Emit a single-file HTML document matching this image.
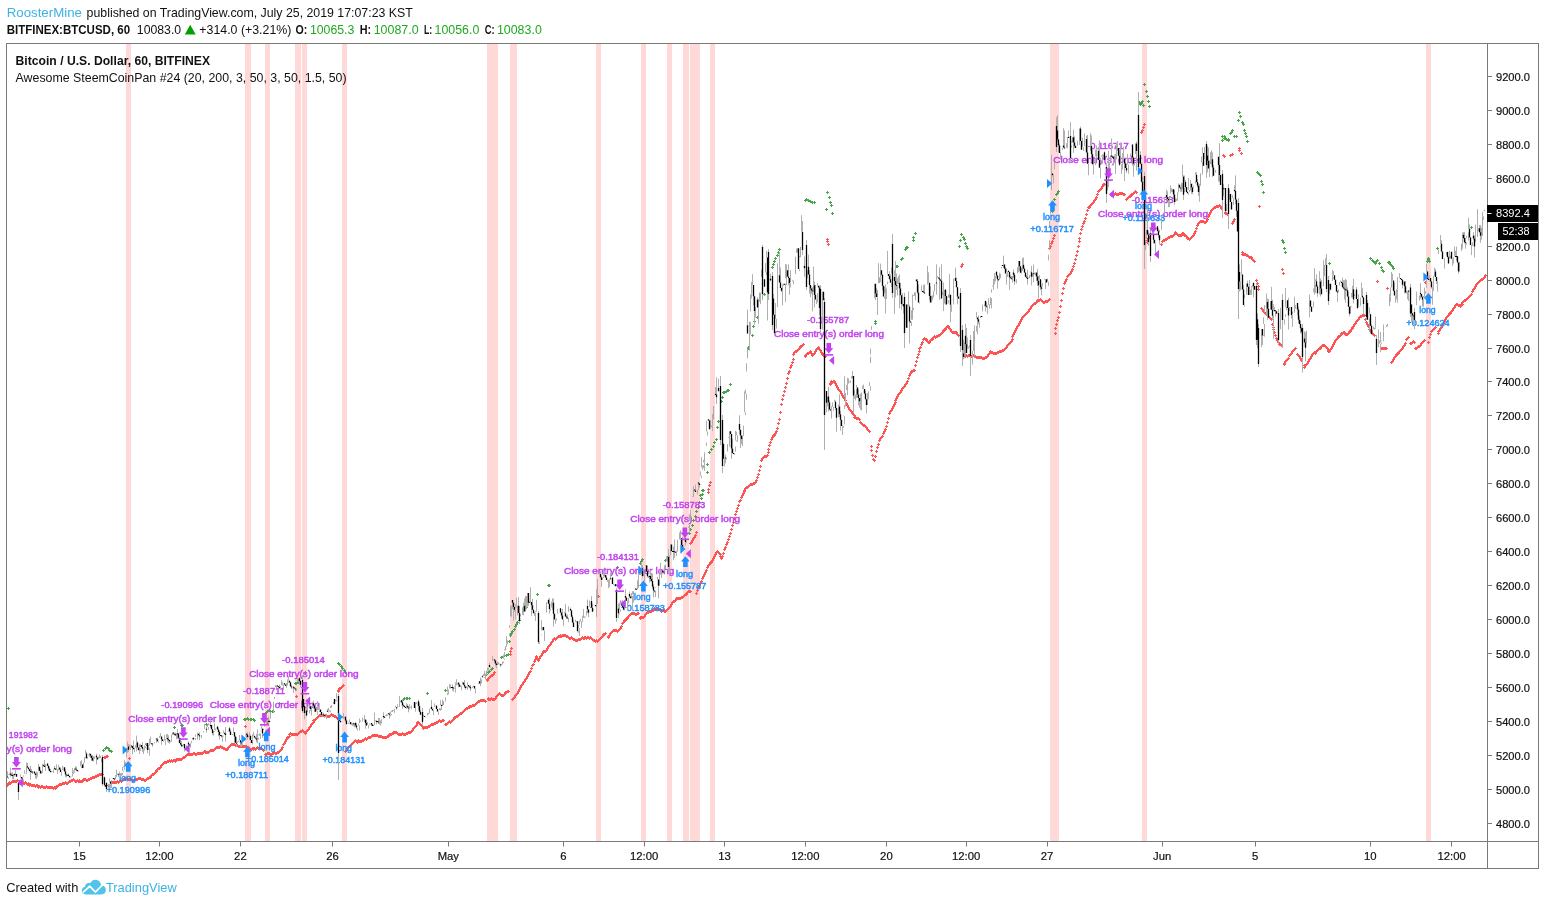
<!DOCTYPE html>
<html><head><meta charset="utf-8"><title>BTCUSD chart</title>
<style>html,body{margin:0;padding:0;background:#fff}body{width:1545px;height:905px;overflow:hidden;font-family:"Liberation Sans", sans-serif}</style></head>
<body>
<svg width="1545" height="905" viewBox="0 0 1545 905" style="display:block;will-change:transform;font-family:'Liberation Sans', sans-serif">
<rect width="1545" height="905" fill="#fff"/>
<defs><clipPath id="cp"><rect x="7" y="44" width="1480" height="797"/></clipPath></defs>
<g clip-path="url(#cp)">
<rect x="126" y="44" width="5" height="797" fill="#ffd8d8"/>
<rect x="245" y="44" width="6" height="797" fill="#ffd8d8"/>
<rect x="265" y="44" width="5" height="797" fill="#ffd8d8"/>
<rect x="295" y="44" width="6" height="797" fill="#ffd8d8"/>
<rect x="302" y="44" width="5" height="797" fill="#ffd8d8"/>
<rect x="342" y="44" width="5" height="797" fill="#ffd8d8"/>
<rect x="487" y="44" width="11" height="797" fill="#ffd8d8"/>
<rect x="510" y="44" width="7" height="797" fill="#ffd8d8"/>
<rect x="596" y="44" width="5" height="797" fill="#ffd8d8"/>
<rect x="641" y="44" width="5" height="797" fill="#ffd8d8"/>
<rect x="667" y="44" width="5" height="797" fill="#ffd8d8"/>
<rect x="683" y="44" width="6" height="797" fill="#ffd8d8"/>
<rect x="690" y="44" width="10" height="797" fill="#ffd8d8"/>
<rect x="710" y="44" width="5" height="797" fill="#ffd8d8"/>
<rect x="1050" y="44" width="9" height="797" fill="#ffd8d8"/>
<rect x="1142" y="44" width="5" height="797" fill="#ffd8d8"/>
<rect x="1426" y="44" width="5" height="797" fill="#ffd8d8"/>
<path d="M6 785.5h3M7.5 784v3M6 784.5h3M7.5 783v3M7 784.5h3M8.5 783v3M8 782.5h3M9.5 781v3M9 783.5h3M10.5 782v3M10 782.5h3M11.5 781v3M11 781.5h3M12.5 780v3M12 781.5h3M13.5 780v3M13 781.5h3M14.5 780v3M14 781.5h3M15.5 780v3M15 781.5h3M16.5 780v3M16 780.5h3M17.5 779v3M17 781.5h3M18.5 780v3M18 781.5h3M19.5 780v3M19 782.5h3M20.5 781v3M20 782.5h3M21.5 781v3M21 781.5h3M22.5 780v3M22 783.5h3M23.5 782v3M23 783.5h3M24.5 782v3M24 782.5h3M25.5 781v3M25 783.5h3M26.5 782v3M26 784.5h3M27.5 783v3M27 783.5h3M28.5 782v3M28 785.5h3M29.5 784v3M29 784.5h3M30.5 783v3M30 785.5h3M31.5 784v3M31 785.5h3M32.5 784v3M32 785.5h3M33.5 784v3M33 785.5h3M34.5 784v3M34 786.5h3M35.5 785v3M35 785.5h3M36.5 784v3M36 785.5h3M37.5 784v3M37 787.5h3M38.5 786v3M38 786.5h3M39.5 785v3M39 787.5h3M40.5 786v3M40 786.5h3M41.5 785v3M41 786.5h3M42.5 785v3M42 787.5h3M43.5 786v3M43 787.5h3M44.5 786v3M44 787.5h3M45.5 786v3M45 786.5h3M46.5 785v3M46 787.5h3M47.5 786v3M47 787.5h3M48.5 786v3M48 787.5h3M49.5 786v3M49 787.5h3M50.5 786v3M50 787.5h3M51.5 786v3M51 787.5h3M52.5 786v3M52 788.5h3M53.5 787v3M53 787.5h3M54.5 786v3M54 788.5h3M55.5 787v3M55 786.5h3M56.5 785v3M56 786.5h3M57.5 785v3M57 785.5h3M58.5 784v3M58 784.5h3M59.5 783v3M59 784.5h3M60.5 783v3M60 784.5h3M61.5 783v3M61 783.5h3M62.5 782v3M62 783.5h3M63.5 782v3M63 783.5h3M64.5 782v3M64 782.5h3M65.5 781v3M65 783.5h3M66.5 782v3M66 783.5h3M67.5 782v3M67 782.5h3M68.5 781v3M68 781.5h3M69.5 780v3M69 781.5h3M70.5 780v3M70 780.5h3M71.5 779v3M71 780.5h3M72.5 779v3M72 779.5h3M73.5 778v3M73 780.5h3M74.5 779v3M74 781.5h3M75.5 780v3M75 781.5h3M76.5 780v3M76 780.5h3M77.5 779v3M77 781.5h3M78.5 780v3M78 781.5h3M79.5 780v3M78 780.5h3M79.5 779v3M79 781.5h3M80.5 780v3M80 781.5h3M81.5 780v3M81 781.5h3M82.5 780v3M82 779.5h3M83.5 778v3M83 779.5h3M84.5 778v3M84 779.5h3M85.5 778v3M85 780.5h3M86.5 779v3M86 780.5h3M87.5 779v3M87 779.5h3M88.5 778v3M88 779.5h3M89.5 778v3M89 778.5h3M90.5 777v3M90 778.5h3M91.5 777v3M91 777.5h3M92.5 776v3M92 777.5h3M93.5 776v3M93 777.5h3M94.5 776v3M94 776.5h3M95.5 775v3M95 776.5h3M96.5 775v3M96 775.5h3M97.5 774v3M97 775.5h3M98.5 774v3M98 774.5h3M99.5 773v3M99 774.5h3M100.5 773v3M100 774.5h3M101.5 773v3M101 774.5h3M102.5 773v3M107 785.5h3M108.5 784v3M108 785.5h3M109.5 784v3M109 784.5h3M110.5 783v3M110 783.5h3M111.5 782v3M111 782.5h3M112.5 781v3M112 782.5h3M113.5 781v3M113 782.5h3M114.5 781v3M114 782.5h3M115.5 781v3M115 782.5h3M116.5 781v3M116 781.5h3M117.5 780v3M117 782.5h3M118.5 781v3M118 781.5h3M119.5 780v3M119 780.5h3M120.5 779v3M120 781.5h3M121.5 780v3M121 780.5h3M122.5 779v3M122 779.5h3M123.5 778v3M123 778.5h3M124.5 777v3M124 779.5h3M125.5 778v3M125 778.5h3M126.5 777v3M126 779.5h3M127.5 778v3M127 779.5h3M128.5 778v3M128 779.5h3M129.5 778v3M129 779.5h3M130.5 778v3M130 779.5h3M131.5 778v3M131 780.5h3M132.5 779v3M132 780.5h3M133.5 779v3M133 779.5h3M134.5 778v3M134 779.5h3M135.5 778v3M135 779.5h3M136.5 778v3M136 779.5h3M137.5 778v3M137 778.5h3M138.5 777v3M138 778.5h3M139.5 777v3M139 778.5h3M140.5 777v3M140 779.5h3M141.5 778v3M141 779.5h3M142.5 778v3M142 779.5h3M143.5 778v3M143 780.5h3M144.5 779v3M144 780.5h3M145.5 779v3M145 779.5h3M146.5 778v3M146 778.5h3M147.5 777v3M147 778.5h3M148.5 777v3M148 777.5h3M149.5 776v3M149 777.5h3M150.5 776v3M150 775.5h3M151.5 774v3M151 774.5h3M152.5 773v3M152 774.5h3M153.5 773v3M153 773.5h3M154.5 772v3M154 772.5h3M155.5 771v3M155 771.5h3M156.5 770v3M155 770.5h3M156.5 769v3M156 769.5h3M157.5 768v3M157 768.5h3M158.5 767v3M158 768.5h3M159.5 767v3M159 767.5h3M160.5 766v3M160 765.5h3M161.5 764v3M161 764.5h3M162.5 763v3M162 763.5h3M163.5 762v3M163 762.5h3M164.5 761v3M164 762.5h3M165.5 761v3M165 762.5h3M166.5 761v3M166 761.5h3M167.5 760v3M167 761.5h3M168.5 760v3M168 760.5h3M169.5 759v3M169 761.5h3M170.5 760v3M170 760.5h3M171.5 759v3M171 761.5h3M172.5 760v3M172 760.5h3M173.5 759v3M173 760.5h3M174.5 759v3M174 761.5h3M175.5 760v3M175 759.5h3M176.5 758v3M176 759.5h3M177.5 758v3M177 759.5h3M178.5 758v3M178 759.5h3M179.5 758v3M179 759.5h3M180.5 758v3M180 759.5h3M181.5 758v3M181 758.5h3M182.5 757v3M182 757.5h3M183.5 756v3M183 757.5h3M184.5 756v3M184 756.5h3M185.5 755v3M185 755.5h3M186.5 754v3M186 754.5h3M187.5 753v3M187 754.5h3M188.5 753v3M188 754.5h3M189.5 753v3M189 754.5h3M190.5 753v3M190 754.5h3M191.5 753v3M191 754.5h3M192.5 753v3M192 753.5h3M193.5 752v3M193 753.5h3M194.5 752v3M194 754.5h3M195.5 753v3M195 754.5h3M196.5 753v3M196 753.5h3M197.5 752v3M197 753.5h3M198.5 752v3M198 753.5h3M199.5 752v3M199 753.5h3M200.5 752v3M200 753.5h3M201.5 752v3M201 753.5h3M202.5 752v3M202 752.5h3M203.5 751v3M203 751.5h3M204.5 750v3M204 751.5h3M205.5 750v3M204 752.5h3M205.5 751v3M205 752.5h3M206.5 751v3M206 752.5h3M207.5 751v3M207 752.5h3M208.5 751v3M208 751.5h3M209.5 750v3M209 750.5h3M210.5 749v3M210 750.5h3M211.5 749v3M211 750.5h3M212.5 749v3M212 750.5h3M213.5 749v3M213 749.5h3M214.5 748v3M214 748.5h3M215.5 747v3M215 747.5h3M216.5 746v3M216 747.5h3M217.5 746v3M217 747.5h3M218.5 746v3M218 747.5h3M219.5 746v3M219 746.5h3M220.5 745v3M220 747.5h3M221.5 746v3M221 747.5h3M222.5 746v3M222 748.5h3M223.5 747v3M223 748.5h3M224.5 747v3M224 749.5h3M225.5 748v3M225 749.5h3M226.5 748v3M226 749.5h3M227.5 748v3M227 747.5h3M228.5 746v3M228 746.5h3M229.5 745v3M229 745.5h3M230.5 744v3M230 744.5h3M231.5 743v3M231 744.5h3M232.5 743v3M232 744.5h3M233.5 743v3M233 744.5h3M234.5 743v3M234 745.5h3M235.5 744v3M235 745.5h3M236.5 744v3M236 745.5h3M237.5 744v3M237 746.5h3M238.5 745v3M238 746.5h3M239.5 745v3M239 746.5h3M240.5 745v3M240 746.5h3M241.5 745v3M241 746.5h3M242.5 745v3M242 746.5h3M243.5 745v3M243 746.5h3M244.5 745v3M244 746.5h3M245.5 745v3M245 746.5h3M246.5 745v3M246 747.5h3M247.5 746v3M247 747.5h3M248.5 746v3M248 748.5h3M249.5 747v3M249 749.5h3M250.5 748v3M250 749.5h3M251.5 748v3M251 748.5h3M252.5 747v3M252 748.5h3M253.5 747v3M252 749.5h3M253.5 748v3M253 748.5h3M254.5 747v3M254 749.5h3M255.5 748v3M255 748.5h3M256.5 747v3M256 747.5h3M257.5 746v3M257 748.5h3M258.5 747v3M258 748.5h3M259.5 747v3M259 748.5h3M260.5 747v3M260 748.5h3M261.5 747v3M261 749.5h3M262.5 748v3M262 750.5h3M263.5 749v3M264 754.5h3M265.5 753v3M265 754.5h3M266.5 753v3M266 753.5h3M267.5 752v3M267 753.5h3M268.5 752v3M268 753.5h3M269.5 752v3M269 754.5h3M270.5 753v3M270 754.5h3M271.5 753v3M271 753.5h3M272.5 752v3M272 753.5h3M273.5 752v3M273 752.5h3M274.5 751v3M274 753.5h3M275.5 752v3M275 753.5h3M276.5 752v3M276 752.5h3M277.5 751v3M277 752.5h3M278.5 751v3M278 751.5h3M279.5 750v3M279 750.5h3M280.5 749v3M280 749.5h3M281.5 748v3M281 747.5h3M282.5 746v3M282 744.5h3M283.5 743v3M283 743.5h3M284.5 742v3M284 741.5h3M285.5 740v3M285 739.5h3M286.5 738v3M286 737.5h3M287.5 736v3M287 737.5h3M288.5 736v3M288 736.5h3M289.5 735v3M288 734.5h3M289.5 733v3M289 733.5h3M290.5 732v3M290 734.5h3M291.5 733v3M291 734.5h3M292.5 733v3M292 734.5h3M293.5 733v3M293 734.5h3M294.5 733v3M294 734.5h3M295.5 733v3M295 734.5h3M296.5 733v3M296 734.5h3M297.5 733v3M297 733.5h3M298.5 732v3M298 732.5h3M299.5 731v3M299 731.5h3M300.5 730v3M300 731.5h3M301.5 730v3M301 730.5h3M302.5 729v3M302 731.5h3M303.5 730v3M303 732.5h3M304.5 731v3M304 733.5h3M305.5 732v3M305 731.5h3M306.5 730v3M306 730.5h3M307.5 729v3M307 729.5h3M308.5 728v3M308 727.5h3M309.5 726v3M309 726.5h3M310.5 725v3M310 724.5h3M311.5 723v3M311 723.5h3M312.5 722v3M312 722.5h3M313.5 721v3M312 720.5h3M313.5 719v3M313 720.5h3M314.5 719v3M314 719.5h3M315.5 718v3M315 718.5h3M316.5 717v3M316 717.5h3M317.5 716v3M317 716.5h3M318.5 715v3M318 715.5h3M319.5 714v3M319 715.5h3M320.5 714v3M320 715.5h3M321.5 714v3M321 715.5h3M322.5 714v3M322 715.5h3M323.5 714v3M323 716.5h3M324.5 715v3M324 715.5h3M325.5 714v3M325 716.5h3M326.5 715v3M326 716.5h3M327.5 715v3M327 716.5h3M328.5 715v3M328 716.5h3M329.5 715v3M329 715.5h3M330.5 714v3M330 714.5h3M331.5 713v3M331 715.5h3M332.5 714v3M332 715.5h3M333.5 714v3M333 716.5h3M334.5 715v3M334 716.5h3M335.5 715v3M335 717.5h3M336.5 716v3M336 718.5h3M337.5 717v3M344 751.5h3M345.5 750v3M345 750.5h3M346.5 749v3M346 748.5h3M347.5 747v3M347 747.5h3M348.5 746v3M348 746.5h3M349.5 745v3M349 745.5h3M350.5 744v3M350 744.5h3M351.5 743v3M351 743.5h3M352.5 742v3M352 742.5h3M353.5 741v3M353 741.5h3M354.5 740v3M354 740.5h3M355.5 739v3M355 741.5h3M356.5 740v3M356 742.5h3M357.5 741v3M357 740.5h3M358.5 739v3M358 741.5h3M359.5 740v3M359 741.5h3M360.5 740v3M360 741.5h3M361.5 740v3M361 740.5h3M362.5 739v3M362 740.5h3M363.5 739v3M363 739.5h3M364.5 738v3M364 738.5h3M365.5 737v3M365 739.5h3M366.5 738v3M366 738.5h3M367.5 737v3M367 737.5h3M368.5 736v3M368 737.5h3M369.5 736v3M369 737.5h3M370.5 736v3M370 736.5h3M371.5 735v3M371 735.5h3M372.5 734v3M372 735.5h3M373.5 734v3M373 735.5h3M374.5 734v3M374 735.5h3M375.5 734v3M375 735.5h3M376.5 734v3M376 735.5h3M377.5 734v3M377 736.5h3M378.5 735v3M378 736.5h3M379.5 735v3M379 736.5h3M380.5 735v3M380 736.5h3M381.5 735v3M381 737.5h3M382.5 736v3M382 737.5h3M383.5 736v3M383 737.5h3M384.5 736v3M384 737.5h3M385.5 736v3M385 737.5h3M386.5 736v3M386 736.5h3M387.5 735v3M387 736.5h3M388.5 735v3M388 734.5h3M389.5 733v3M389 734.5h3M390.5 733v3M390 734.5h3M391.5 733v3M391 733.5h3M392.5 732v3M392 733.5h3M393.5 732v3M392 732.5h3M393.5 731v3M393 732.5h3M394.5 731v3M394 732.5h3M395.5 731v3M395 732.5h3M396.5 731v3M396 733.5h3M397.5 732v3M397 734.5h3M398.5 733v3M398 734.5h3M399.5 733v3M399 734.5h3M400.5 733v3M400 734.5h3M401.5 733v3M401 733.5h3M402.5 732v3M402 734.5h3M403.5 733v3M403 734.5h3M404.5 733v3M404 734.5h3M405.5 733v3M405 733.5h3M406.5 732v3M406 733.5h3M407.5 732v3M407 732.5h3M408.5 731v3M408 732.5h3M409.5 731v3M409 732.5h3M410.5 731v3M410 731.5h3M411.5 730v3M411 730.5h3M412.5 729v3M412 728.5h3M413.5 727v3M413 727.5h3M414.5 726v3M414 726.5h3M415.5 725v3M415 725.5h3M416.5 724v3M416 723.5h3M417.5 722v3M416 722.5h3M417.5 721v3M417 722.5h3M418.5 721v3M418 723.5h3M419.5 722v3M419 724.5h3M420.5 723v3M420 725.5h3M421.5 724v3M421 726.5h3M422.5 725v3M422 728.5h3M423.5 727v3M423 727.5h3M424.5 726v3M424 727.5h3M425.5 726v3M425 727.5h3M426.5 726v3M426 727.5h3M427.5 726v3M427 726.5h3M428.5 725v3M428 726.5h3M429.5 725v3M429 725.5h3M430.5 724v3M430 724.5h3M431.5 723v3M431 724.5h3M432.5 723v3M432 724.5h3M433.5 723v3M433 723.5h3M434.5 722v3M434 723.5h3M435.5 722v3M435 722.5h3M436.5 721v3M436 722.5h3M437.5 721v3M437 721.5h3M438.5 720v3M438 720.5h3M439.5 719v3M439 721.5h3M440.5 720v3M440 721.5h3M441.5 720v3M441 720.5h3M442.5 719v3M442 720.5h3M443.5 719v3M444 724.5h3M445.5 723v3M445 724.5h3M446.5 723v3M446 723.5h3M447.5 722v3M447 722.5h3M448.5 721v3M448 721.5h3M449.5 720v3M449 722.5h3M450.5 721v3M450 721.5h3M451.5 720v3M451 720.5h3M452.5 719v3M452 719.5h3M453.5 718v3M453 717.5h3M454.5 716v3M454 717.5h3M455.5 716v3M455 716.5h3M456.5 715v3M456 716.5h3M457.5 715v3M457 715.5h3M458.5 714v3M458 714.5h3M459.5 713v3M459 713.5h3M460.5 712v3M460 713.5h3M461.5 712v3M461 712.5h3M462.5 711v3M462 711.5h3M463.5 710v3M463 710.5h3M464.5 709v3M464 709.5h3M465.5 708v3M465 708.5h3M466.5 707v3M466 708.5h3M467.5 707v3M467 707.5h3M468.5 706v3M468 707.5h3M469.5 706v3M468 706.5h3M469.5 705v3M469 706.5h3M470.5 705v3M470 706.5h3M471.5 705v3M471 705.5h3M472.5 704v3M472 705.5h3M473.5 704v3M473 705.5h3M474.5 704v3M474 704.5h3M475.5 703v3M475 703.5h3M476.5 702v3M476 702.5h3M477.5 701v3M477 701.5h3M478.5 700v3M478 701.5h3M479.5 700v3M479 700.5h3M480.5 699v3M480 700.5h3M481.5 699v3M481 700.5h3M482.5 699v3M482 700.5h3M483.5 699v3M483 700.5h3M484.5 699v3M484 701.5h3M485.5 700v3M487 699.5h3M488.5 698v3M487 698.5h3M488.5 697v3M488 699.5h3M489.5 698v3M489 699.5h3M490.5 698v3M490 698.5h3M491.5 697v3M491 699.5h3M492.5 698v3M492 699.5h3M493.5 698v3M493 699.5h3M494.5 698v3M494 698.5h3M495.5 697v3M495 696.5h3M496.5 695v3M496 695.5h3M497.5 694v3M497 694.5h3M498.5 693v3M498 693.5h3M499.5 692v3M499 694.5h3M500.5 693v3M500 695.5h3M501.5 694v3M501 695.5h3M502.5 694v3M502 695.5h3M503.5 694v3M503 694.5h3M504.5 693v3M504 692.5h3M505.5 691v3M505 692.5h3M506.5 691v3M506 691.5h3M507.5 690v3M507 691.5h3M508.5 690v3M511 699.5h3M512.5 698v3M512 698.5h3M513.5 697v3M513 697.5h3M514.5 696v3M514 695.5h3M515.5 694v3M515 694.5h3M516.5 693v3M516 693.5h3M517.5 692v3M517 691.5h3M518.5 690v3M518 689.5h3M519.5 688v3M519 687.5h3M520.5 686v3M520 685.5h3M521.5 684v3M521 684.5h3M522.5 683v3M522 682.5h3M523.5 681v3M523 681.5h3M524.5 680v3M524 679.5h3M525.5 678v3M525 678.5h3M526.5 677v3M526 676.5h3M527.5 675v3M527 674.5h3M528.5 673v3M528 672.5h3M529.5 671v3M529 671.5h3M530.5 670v3M530 668.5h3M531.5 667v3M531 665.5h3M532.5 664v3M532 664.5h3M533.5 663v3M533 661.5h3M534.5 660v3M534 659.5h3M535.5 658v3M535 656.5h3M536.5 655v3M535 657.5h3M536.5 656v3M536 659.5h3M537.5 658v3M537 660.5h3M538.5 659v3M538 658.5h3M539.5 657v3M539 656.5h3M540.5 655v3M540 655.5h3M541.5 654v3M541 653.5h3M542.5 652v3M542 651.5h3M543.5 650v3M543 651.5h3M544.5 650v3M544 651.5h3M545.5 650v3M545 650.5h3M546.5 649v3M546 648.5h3M547.5 647v3M547 646.5h3M548.5 645v3M548 645.5h3M549.5 644v3M549 644.5h3M550.5 643v3M550 642.5h3M551.5 641v3M551 641.5h3M552.5 640v3M552 639.5h3M553.5 638v3M553 638.5h3M554.5 637v3M554 639.5h3M555.5 638v3M555 638.5h3M556.5 637v3M556 637.5h3M557.5 636v3M557 636.5h3M558.5 635v3M558 636.5h3M559.5 635v3M559 635.5h3M560.5 634v3M559 636.5h3M560.5 635v3M560 636.5h3M561.5 635v3M561 635.5h3M562.5 634v3M562 635.5h3M563.5 634v3M563 635.5h3M564.5 634v3M564 635.5h3M565.5 634v3M565 636.5h3M566.5 635v3M566 636.5h3M567.5 635v3M567 637.5h3M568.5 636v3M568 638.5h3M569.5 637v3M569 638.5h3M570.5 637v3M570 637.5h3M571.5 636v3M571 638.5h3M572.5 637v3M572 639.5h3M573.5 638v3M573 639.5h3M574.5 638v3M574 640.5h3M575.5 639v3M575 640.5h3M576.5 639v3M576 640.5h3M577.5 639v3M577 639.5h3M578.5 638v3M578 639.5h3M579.5 638v3M579 639.5h3M580.5 638v3M580 638.5h3M581.5 637v3M581 637.5h3M582.5 636v3M582 638.5h3M583.5 637v3M583 637.5h3M584.5 636v3M583 638.5h3M584.5 637v3M584 637.5h3M585.5 636v3M585 638.5h3M586.5 637v3M586 637.5h3M587.5 636v3M587 637.5h3M588.5 636v3M588 638.5h3M589.5 637v3M589 637.5h3M590.5 636v3M590 638.5h3M591.5 637v3M591 639.5h3M592.5 638v3M592 640.5h3M593.5 639v3M593 640.5h3M594.5 639v3M594 641.5h3M595.5 640v3M595 640.5h3M596.5 639v3M596 641.5h3M597.5 640v3M597 640.5h3M598.5 639v3M598 639.5h3M599.5 638v3M599 638.5h3M600.5 637v3M600 637.5h3M601.5 636v3M601 636.5h3M602.5 635v3M602 634.5h3M603.5 633v3M603 634.5h3M604.5 633v3M604 633.5h3M605.5 632v3M607 637.5h3M608.5 636v3M607 636.5h3M608.5 635v3M608 635.5h3M609.5 634v3M609 633.5h3M610.5 632v3M610 632.5h3M611.5 631v3M611 631.5h3M612.5 630v3M612 630.5h3M613.5 629v3M613 630.5h3M614.5 629v3M614 630.5h3M615.5 629v3M615 630.5h3M616.5 629v3M616 631.5h3M617.5 630v3M617 630.5h3M618.5 629v3M618 629.5h3M619.5 628v3M619 628.5h3M620.5 627v3M620 626.5h3M621.5 625v3M621 623.5h3M622.5 622v3M622 622.5h3M623.5 621v3M623 620.5h3M624.5 619v3M624 620.5h3M625.5 619v3M625 618.5h3M626.5 617v3M626 618.5h3M627.5 617v3M627 616.5h3M628.5 615v3M628 615.5h3M629.5 614v3M629 614.5h3M630.5 613v3M630 613.5h3M631.5 612v3M631 613.5h3M632.5 612v3M632 613.5h3M633.5 612v3M633 613.5h3M634.5 612v3M634 614.5h3M635.5 613v3M635 614.5h3M636.5 613v3M636 613.5h3M637.5 612v3M637 613.5h3M638.5 612v3M639 618.5h3M640.5 617v3M639 617.5h3M640.5 616v3M640 617.5h3M641.5 616v3M641 617.5h3M642.5 616v3M642 617.5h3M643.5 616v3M643 616.5h3M644.5 615v3M644 614.5h3M645.5 613v3M645 613.5h3M646.5 612v3M646 612.5h3M647.5 611v3M647 612.5h3M648.5 611v3M648 611.5h3M649.5 610v3M649 611.5h3M650.5 610v3M650 611.5h3M651.5 610v3M651 610.5h3M652.5 609v3M652 610.5h3M653.5 609v3M653 608.5h3M654.5 607v3M654 609.5h3M655.5 608v3M655 608.5h3M656.5 607v3M656 609.5h3M657.5 608v3M657 609.5h3M658.5 608v3M658 609.5h3M659.5 608v3M659 609.5h3M660.5 608v3M660 611.5h3M661.5 610v3M661 610.5h3M662.5 609v3M662 610.5h3M663.5 609v3M663 610.5h3M664.5 609v3M663 611.5h3M664.5 610v3M664 611.5h3M665.5 610v3M665 610.5h3M666.5 609v3M666 609.5h3M667.5 608v3M667 608.5h3M668.5 607v3M668 607.5h3M669.5 606v3M669 606.5h3M670.5 605v3M670 604.5h3M671.5 603v3M671 602.5h3M672.5 601v3M672 601.5h3M673.5 600v3M673 601.5h3M674.5 600v3M674 600.5h3M675.5 599v3M675 598.5h3M676.5 597v3M676 598.5h3M677.5 597v3M677 598.5h3M678.5 597v3M678 598.5h3M679.5 597v3M679 598.5h3M680.5 597v3M680 597.5h3M681.5 596v3M681 597.5h3M682.5 596v3M682 596.5h3M683.5 595v3M683 595.5h3M684.5 594v3M684 594.5h3M685.5 593v3M685 594.5h3M686.5 593v3M686 592.5h3M687.5 591v3M687 591.5h3M688.5 590v3M688 591.5h3M689.5 590v3M689 591.5h3M690.5 590v3M695 593.5h3M696.5 592v3M696 590.5h3M697.5 589v3M697 587.5h3M698.5 586v3M698 585.5h3M699.5 584v3M699 583.5h3M700.5 582v3M700 581.5h3M701.5 580v3M701 578.5h3M702.5 577v3M702 576.5h3M703.5 575v3M703 574.5h3M704.5 573v3M704 572.5h3M705.5 571v3M705 570.5h3M706.5 569v3M706 567.5h3M707.5 566v3M707 565.5h3M708.5 564v3M708 564.5h3M709.5 563v3M709 562.5h3M710.5 561v3M710 562.5h3M711.5 561v3M711 560.5h3M712.5 559v3M712 558.5h3M713.5 557v3M713 556.5h3M714.5 555v3M714 554.5h3M715.5 553v3M715 552.5h3M716.5 551v3M716 551.5h3M717.5 550v3M717 552.5h3M718.5 551v3M718 553.5h3M719.5 552v3M719 554.5h3M720.5 553v3M719 556.5h3M720.5 555v3M720 558.5h3M721.5 557v3M721 556.5h3M722.5 555v3M722 553.5h3M723.5 552v3M723 549.5h3M724.5 548v3M724 547.5h3M725.5 546v3M725 544.5h3M726.5 543v3M726 542.5h3M727.5 541v3M727 539.5h3M728.5 538v3M728 536.5h3M729.5 535v3M729 533.5h3M730.5 532v3M730 529.5h3M731.5 528v3M731 525.5h3M732.5 524v3M732 522.5h3M733.5 521v3M733 518.5h3M734.5 517v3M734 514.5h3M735.5 513v3M735 511.5h3M736.5 510v3M736 508.5h3M737.5 507v3M737 505.5h3M738.5 504v3M738 501.5h3M739.5 500v3M739 500.5h3M740.5 499v3M740 497.5h3M741.5 496v3M741 495.5h3M742.5 494v3M742 493.5h3M743.5 492v3M743 491.5h3M744.5 490v3M743 490.5h3M744.5 489v3M744 488.5h3M745.5 487v3M745 487.5h3M746.5 486v3M746 487.5h3M747.5 486v3M747 486.5h3M748.5 485v3M748 485.5h3M749.5 484v3M749 484.5h3M750.5 483v3M750 484.5h3M751.5 483v3M751 484.5h3M752.5 483v3M752 483.5h3M753.5 482v3M753 483.5h3M754.5 482v3M754 482.5h3M755.5 481v3M755 480.5h3M756.5 479v3M756 477.5h3M757.5 476v3M757 474.5h3M758.5 473v3M758 470.5h3M759.5 469v3M759 466.5h3M760.5 465v3M760 460.5h3M761.5 459v3M761 458.5h3M762.5 457v3M762 457.5h3M763.5 456v3M763 456.5h3M764.5 455v3M764 456.5h3M765.5 455v3M765 456.5h3M766.5 455v3M766 455.5h3M767.5 454v3M767 452.5h3M768.5 451v3M767 449.5h3M768.5 448v3M768 445.5h3M769.5 444v3M769 442.5h3M770.5 441v3M770 439.5h3M771.5 438v3M771 437.5h3M772.5 436v3M772 435.5h3M773.5 434v3M773 435.5h3M774.5 434v3M774 433.5h3M775.5 432v3M775 431.5h3M776.5 430v3M776 428.5h3M777.5 427v3M777 423.5h3M778.5 422v3M778 419.5h3M779.5 418v3M779 412.5h3M780.5 411v3M780 404.5h3M781.5 403v3M781 399.5h3M782.5 398v3M782 395.5h3M783.5 394v3M783 391.5h3M784.5 390v3M784 387.5h3M785.5 386v3M785 383.5h3M786.5 382v3M786 378.5h3M787.5 377v3M787 373.5h3M788.5 372v3M788 371.5h3M789.5 370v3M789 367.5h3M790.5 366v3M790 365.5h3M791.5 364v3M791 362.5h3M792.5 361v3M792 359.5h3M793.5 358v3M792 354.5h3M793.5 353v3M793 352.5h3M794.5 351v3M794 351.5h3M795.5 350v3M795 351.5h3M796.5 350v3M796 350.5h3M797.5 349v3M797 349.5h3M798.5 348v3M798 348.5h3M799.5 347v3M799 346.5h3M800.5 345v3M800 346.5h3M801.5 345v3M801 345.5h3M802.5 344v3M802 344.5h3M803.5 343v3M804 356.5h3M805.5 355v3M804 355.5h3M805.5 354v3M805 354.5h3M806.5 353v3M806 353.5h3M807.5 352v3M807 353.5h3M808.5 352v3M808 352.5h3M809.5 351v3M809 351.5h3M810.5 350v3M810 353.5h3M811.5 352v3M811 355.5h3M812.5 354v3M812 354.5h3M813.5 353v3M813 353.5h3M814.5 352v3M814 351.5h3M815.5 350v3M815 349.5h3M816.5 348v3M816 348.5h3M817.5 347v3M817 347.5h3M818.5 346v3M818 349.5h3M819.5 348v3M819 350.5h3M820.5 349v3M820 352.5h3M821.5 351v3M821 354.5h3M822.5 353v3M822 354.5h3M823.5 353v3M823 356.5h3M824.5 355v3M824 356.5h3M825.5 355v3M829 384.5h3M830.5 383v3M829 383.5h3M830.5 382v3M830 381.5h3M831.5 380v3M831 382.5h3M832.5 381v3M832 381.5h3M833.5 380v3M833 381.5h3M834.5 380v3M834 383.5h3M835.5 382v3M835 385.5h3M836.5 384v3M836 387.5h3M837.5 386v3M837 389.5h3M838.5 388v3M838 390.5h3M839.5 389v3M839 391.5h3M840.5 390v3M840 393.5h3M841.5 392v3M841 395.5h3M842.5 394v3M842 397.5h3M843.5 396v3M843 398.5h3M844.5 397v3M844 400.5h3M845.5 399v3M845 403.5h3M846.5 402v3M846 405.5h3M847.5 404v3M847 407.5h3M848.5 406v3M848 409.5h3M849.5 408v3M849 410.5h3M850.5 409v3M850 411.5h3M851.5 410v3M851 413.5h3M852.5 412v3M852 414.5h3M853.5 413v3M853 415.5h3M854.5 414v3M853 417.5h3M854.5 416v3M854 417.5h3M855.5 416v3M855 418.5h3M856.5 417v3M856 418.5h3M857.5 417v3M857 418.5h3M858.5 417v3M858 419.5h3M859.5 418v3M859 422.5h3M860.5 421v3M860 423.5h3M861.5 422v3M861 424.5h3M862.5 423v3M862 425.5h3M863.5 424v3M863 425.5h3M864.5 424v3M864 426.5h3M865.5 425v3M865 427.5h3M866.5 426v3M866 429.5h3M867.5 428v3M867 430.5h3M868.5 429v3M868 431.5h3M869.5 430v3M870 446.5h3M871.5 445v3M870 450.5h3M871.5 449v3M871 455.5h3M872.5 454v3M872 459.5h3M873.5 458v3M873 460.5h3M874.5 459v3M874 456.5h3M875.5 455v3M875 451.5h3M876.5 450v3M876 447.5h3M877.5 446v3M877 444.5h3M878.5 443v3M878 440.5h3M879.5 439v3M879 438.5h3M880.5 437v3M880 437.5h3M881.5 436v3M881 436.5h3M882.5 435v3M882 433.5h3M883.5 432v3M883 431.5h3M884.5 430v3M884 429.5h3M885.5 428v3M885 426.5h3M886.5 425v3M886 422.5h3M887.5 421v3M887 418.5h3M888.5 417v3M888 413.5h3M889.5 412v3M889 411.5h3M890.5 410v3M890 410.5h3M891.5 409v3M891 408.5h3M892.5 407v3M892 406.5h3M893.5 405v3M893 404.5h3M894.5 403v3M894 402.5h3M895.5 401v3M894 400.5h3M895.5 399v3M895 398.5h3M896.5 397v3M896 396.5h3M897.5 395v3M897 394.5h3M898.5 393v3M898 393.5h3M899.5 392v3M899 392.5h3M900.5 391v3M900 390.5h3M901.5 389v3M901 388.5h3M902.5 387v3M902 387.5h3M903.5 386v3M903 386.5h3M904.5 385v3M904 384.5h3M905.5 383v3M905 383.5h3M906.5 382v3M906 381.5h3M907.5 380v3M907 378.5h3M908.5 377v3M908 375.5h3M909.5 374v3M909 373.5h3M910.5 372v3M910 371.5h3M911.5 370v3M911 371.5h3M912.5 370v3M912 370.5h3M913.5 369v3M913 370.5h3M914.5 369v3M914 365.5h3M915.5 364v3M915 361.5h3M916.5 360v3M916 357.5h3M917.5 356v3M917 354.5h3M918.5 353v3M918 351.5h3M919.5 350v3M918 348.5h3M919.5 347v3M919 347.5h3M920.5 346v3M920 344.5h3M921.5 343v3M921 342.5h3M922.5 341v3M922 339.5h3M923.5 338v3M923 338.5h3M924.5 337v3M924 339.5h3M925.5 338v3M925 339.5h3M926.5 338v3M926 341.5h3M927.5 340v3M927 342.5h3M928.5 341v3M928 342.5h3M929.5 341v3M929 340.5h3M930.5 339v3M930 339.5h3M931.5 338v3M931 339.5h3M932.5 338v3M932 337.5h3M933.5 336v3M933 336.5h3M934.5 335v3M934 337.5h3M935.5 336v3M935 336.5h3M936.5 335v3M936 336.5h3M937.5 335v3M937 335.5h3M938.5 334v3M938 335.5h3M939.5 334v3M939 334.5h3M940.5 333v3M940 333.5h3M941.5 332v3M941 332.5h3M942.5 331v3M942 331.5h3M943.5 330v3M942 330.5h3M943.5 329v3M943 329.5h3M944.5 328v3M944 329.5h3M945.5 328v3M945 327.5h3M946.5 326v3M946 326.5h3M947.5 325v3M947 326.5h3M948.5 325v3M948 328.5h3M949.5 327v3M949 329.5h3M950.5 328v3M950 331.5h3M951.5 330v3M951 332.5h3M952.5 331v3M952 332.5h3M953.5 331v3M953 332.5h3M954.5 331v3M954 332.5h3M955.5 331v3M955 332.5h3M956.5 331v3M956 334.5h3M957.5 333v3M957 335.5h3M958.5 334v3M963 355.5h3M964.5 354v3M963 356.5h3M964.5 355v3M964 356.5h3M965.5 355v3M965 355.5h3M966.5 354v3M966 356.5h3M967.5 355v3M967 355.5h3M968.5 354v3M968 355.5h3M969.5 354v3M969 355.5h3M970.5 354v3M970 356.5h3M971.5 355v3M971 355.5h3M972.5 354v3M972 355.5h3M973.5 354v3M973 356.5h3M974.5 355v3M974 356.5h3M975.5 355v3M975 357.5h3M976.5 356v3M976 357.5h3M977.5 356v3M977 357.5h3M978.5 356v3M978 357.5h3M979.5 356v3M979 357.5h3M980.5 356v3M980 357.5h3M981.5 356v3M981 358.5h3M982.5 357v3M982 358.5h3M983.5 357v3M983 358.5h3M984.5 357v3M984 357.5h3M985.5 356v3M985 357.5h3M986.5 356v3M986 356.5h3M987.5 355v3M987 354.5h3M988.5 353v3M988 353.5h3M989.5 352v3M989 351.5h3M990.5 350v3M990 352.5h3M991.5 351v3M991 352.5h3M992.5 351v3M992 353.5h3M993.5 352v3M993 353.5h3M994.5 352v3M994 353.5h3M995.5 352v3M995 353.5h3M996.5 352v3M996 352.5h3M997.5 351v3M997 352.5h3M998.5 351v3M998 351.5h3M999.5 350v3M999 351.5h3M1000.5 350v3M1000 351.5h3M1001.5 350v3M1001 350.5h3M1002.5 349v3M1002 350.5h3M1003.5 349v3M1003 349.5h3M1004.5 348v3M1004 348.5h3M1005.5 347v3M1005 347.5h3M1006.5 346v3M1006 345.5h3M1007.5 344v3M1007 344.5h3M1008.5 343v3M1008 343.5h3M1009.5 342v3M1009 342.5h3M1010.5 341v3M1010 341.5h3M1011.5 340v3M1011 339.5h3M1012.5 338v3M1011 336.5h3M1012.5 335v3M1012 334.5h3M1013.5 333v3M1013 332.5h3M1014.5 331v3M1014 330.5h3M1015.5 329v3M1015 328.5h3M1016.5 327v3M1016 326.5h3M1017.5 325v3M1017 325.5h3M1018.5 324v3M1018 323.5h3M1019.5 322v3M1019 321.5h3M1020.5 320v3M1020 319.5h3M1021.5 318v3M1021 317.5h3M1022.5 316v3M1022 316.5h3M1023.5 315v3M1023 315.5h3M1024.5 314v3M1024 314.5h3M1025.5 313v3M1025 313.5h3M1026.5 312v3M1026 312.5h3M1027.5 311v3M1027 311.5h3M1028.5 310v3M1028 309.5h3M1029.5 308v3M1029 308.5h3M1030.5 307v3M1030 306.5h3M1031.5 305v3M1031 305.5h3M1032.5 304v3M1032 304.5h3M1033.5 303v3M1033 303.5h3M1034.5 302v3M1034 303.5h3M1035.5 302v3M1035 302.5h3M1036.5 301v3M1036 300.5h3M1037.5 299v3M1037 300.5h3M1038.5 299v3M1038 300.5h3M1039.5 299v3M1039 299.5h3M1040.5 298v3M1040 300.5h3M1041.5 299v3M1041 301.5h3M1042.5 300v3M1042 302.5h3M1043.5 301v3M1043 302.5h3M1044.5 301v3M1044 301.5h3M1045.5 300v3M1045 301.5h3M1046.5 300v3M1046 301.5h3M1047.5 300v3M1047 300.5h3M1048.5 299v3M1048 299.5h3M1049.5 298v3M1054 333.5h3M1055.5 332v3M1054 328.5h3M1055.5 327v3M1055 324.5h3M1056.5 323v3M1056 320.5h3M1057.5 319v3M1057 317.5h3M1058.5 316v3M1058 312.5h3M1059.5 311v3M1059 306.5h3M1060.5 305v3M1060 300.5h3M1061.5 299v3M1061 293.5h3M1062.5 292v3M1062 288.5h3M1063.5 287v3M1063 283.5h3M1064.5 282v3M1064 281.5h3M1065.5 280v3M1065 279.5h3M1066.5 278v3M1066 276.5h3M1067.5 275v3M1067 275.5h3M1068.5 274v3M1068 274.5h3M1069.5 273v3M1069 273.5h3M1070.5 272v3M1070 271.5h3M1071.5 270v3M1071 269.5h3M1072.5 268v3M1072 266.5h3M1073.5 265v3M1073 263.5h3M1074.5 262v3M1074 259.5h3M1075.5 258v3M1075 255.5h3M1076.5 254v3M1076 251.5h3M1077.5 250v3M1077 246.5h3M1078.5 245v3M1078 241.5h3M1079.5 240v3M1078 238.5h3M1079.5 237v3M1079 233.5h3M1080.5 232v3M1080 229.5h3M1081.5 228v3M1081 226.5h3M1082.5 225v3M1082 223.5h3M1083.5 222v3M1083 221.5h3M1084.5 220v3M1084 218.5h3M1085.5 217v3M1085 214.5h3M1086.5 213v3M1086 210.5h3M1087.5 209v3M1087 207.5h3M1088.5 206v3M1088 207.5h3M1089.5 206v3M1089 205.5h3M1090.5 204v3M1090 204.5h3M1091.5 203v3M1091 203.5h3M1092.5 202v3M1092 202.5h3M1093.5 201v3M1093 200.5h3M1094.5 199v3M1094 199.5h3M1095.5 198v3M1095 197.5h3M1096.5 196v3M1096 194.5h3M1097.5 193v3M1097 191.5h3M1098.5 190v3M1098 190.5h3M1099.5 189v3M1099 189.5h3M1100.5 188v3M1100 188.5h3M1101.5 187v3M1101 186.5h3M1102.5 185v3M1102 185.5h3M1103.5 184v3M1102 184.5h3M1103.5 183v3M1103 184.5h3M1104.5 183v3M1110 195.5h3M1111.5 194v3M1111 193.5h3M1112.5 192v3M1112 194.5h3M1113.5 193v3M1113 194.5h3M1114.5 193v3M1114 193.5h3M1115.5 192v3M1115 194.5h3M1116.5 193v3M1116 194.5h3M1117.5 193v3M1117 194.5h3M1118.5 193v3M1118 193.5h3M1119.5 192v3M1119 193.5h3M1120.5 192v3M1120 193.5h3M1121.5 192v3M1121 193.5h3M1122.5 192v3M1122 194.5h3M1123.5 193v3M1123 194.5h3M1124.5 193v3M1125 199.5h3M1126.5 198v3M1126 198.5h3M1127.5 197v3M1127 197.5h3M1128.5 196v3M1128 196.5h3M1129.5 195v3M1129 196.5h3M1130.5 195v3M1130 194.5h3M1131.5 193v3M1131 194.5h3M1132.5 193v3M1132 193.5h3M1133.5 192v3M1133 192.5h3M1134.5 191v3M1134 191.5h3M1135.5 190v3M1135 192.5h3M1136.5 191v3M1146 242.5h3M1147.5 241v3M1146 240.5h3M1147.5 239v3M1147 238.5h3M1148.5 237v3M1148 237.5h3M1149.5 236v3M1160 244.5h3M1161.5 243v3M1161 241.5h3M1162.5 240v3M1162 240.5h3M1163.5 239v3M1163 240.5h3M1164.5 239v3M1164 239.5h3M1165.5 238v3M1165 239.5h3M1166.5 238v3M1166 238.5h3M1167.5 237v3M1167 237.5h3M1168.5 236v3M1168 237.5h3M1169.5 236v3M1169 236.5h3M1170.5 235v3M1170 236.5h3M1171.5 235v3M1171 236.5h3M1172.5 235v3M1172 235.5h3M1173.5 234v3M1173 234.5h3M1174.5 233v3M1174 232.5h3M1175.5 231v3M1175 233.5h3M1176.5 232v3M1176 234.5h3M1177.5 233v3M1177 235.5h3M1178.5 234v3M1178 235.5h3M1179.5 234v3M1179 235.5h3M1180.5 234v3M1180 235.5h3M1181.5 234v3M1181 233.5h3M1182.5 232v3M1182 233.5h3M1183.5 232v3M1183 235.5h3M1184.5 234v3M1184 235.5h3M1185.5 234v3M1185 236.5h3M1186.5 235v3M1186 238.5h3M1187.5 237v3M1187 238.5h3M1188.5 237v3M1188 239.5h3M1189.5 238v3M1189 238.5h3M1190.5 237v3M1190 237.5h3M1191.5 236v3M1191 236.5h3M1192.5 235v3M1192 235.5h3M1193.5 234v3M1193 233.5h3M1194.5 232v3M1194 231.5h3M1195.5 230v3M1195 228.5h3M1196.5 227v3M1196 225.5h3M1197.5 224v3M1197 223.5h3M1198.5 222v3M1198 222.5h3M1199.5 221v3M1199 221.5h3M1200.5 220v3M1200 221.5h3M1201.5 220v3M1201 221.5h3M1202.5 220v3M1202 221.5h3M1203.5 220v3M1203 222.5h3M1204.5 221v3M1204 222.5h3M1205.5 221v3M1205 221.5h3M1206.5 220v3M1206 219.5h3M1207.5 218v3M1207 216.5h3M1208.5 215v3M1208 214.5h3M1209.5 213v3M1209 212.5h3M1210.5 211v3M1210 210.5h3M1211.5 209v3M1211 209.5h3M1212.5 208v3M1212 208.5h3M1213.5 207v3M1213 207.5h3M1214.5 206v3M1214 207.5h3M1215.5 206v3M1215 206.5h3M1216.5 205v3M1216 206.5h3M1217.5 205v3M1217 206.5h3M1218.5 205v3M1218 205.5h3M1219.5 204v3M1219 206.5h3M1220.5 205v3M1220 208.5h3M1221.5 207v3M1224 212.5h3M1225.5 211v3M1224 213.5h3M1225.5 212v3M1225 213.5h3M1226.5 212v3M1226 214.5h3M1227.5 213v3M1231 223.5h3M1232.5 222v3M1232 221.5h3M1233.5 220v3M1233 219.5h3M1234.5 218v3M1241 252.5h3M1242.5 251v3M1241 254.5h3M1242.5 253v3M1242 254.5h3M1243.5 253v3M1243 254.5h3M1244.5 253v3M1244 254.5h3M1245.5 253v3M1245 255.5h3M1246.5 254v3M1246 255.5h3M1247.5 254v3M1247 256.5h3M1248.5 255v3M1248 257.5h3M1249.5 256v3M1249 257.5h3M1250.5 256v3M1250 257.5h3M1251.5 256v3M1251 259.5h3M1252.5 258v3M1252 260.5h3M1253.5 259v3M1253 261.5h3M1254.5 260v3M1255 280.5h3M1256.5 279v3M1256 283.5h3M1257.5 282v3M1257 289.5h3M1258.5 288v3M1260 308.5h3M1261.5 307v3M1261 309.5h3M1262.5 308v3M1262 311.5h3M1263.5 310v3M1263 312.5h3M1264.5 311v3M1264 313.5h3M1265.5 312v3M1265 314.5h3M1266.5 313v3M1266 315.5h3M1267.5 314v3M1267 316.5h3M1268.5 315v3M1268 317.5h3M1269.5 316v3M1269 318.5h3M1270.5 317v3M1270 319.5h3M1271.5 318v3M1271 324.5h3M1272.5 323v3M1272 327.5h3M1273.5 326v3M1272 329.5h3M1273.5 328v3M1273 332.5h3M1274.5 331v3M1274 335.5h3M1275.5 334v3M1275 338.5h3M1276.5 337v3M1276 340.5h3M1277.5 339v3M1277 342.5h3M1278.5 341v3M1278 344.5h3M1279.5 343v3M1279 344.5h3M1280.5 343v3M1280 345.5h3M1281.5 344v3M1283 364.5h3M1284.5 363v3M1283 363.5h3M1284.5 362v3M1284 361.5h3M1285.5 360v3M1285 360.5h3M1286.5 359v3M1286 359.5h3M1287.5 358v3M1287 358.5h3M1288.5 357v3M1288 355.5h3M1289.5 354v3M1289 354.5h3M1290.5 353v3M1290 353.5h3M1291.5 352v3M1291 351.5h3M1292.5 350v3M1292 350.5h3M1293.5 349v3M1293 349.5h3M1294.5 348v3M1294 348.5h3M1295.5 347v3M1296 354.5h3M1297.5 353v3M1297 355.5h3M1298.5 354v3M1298 356.5h3M1299.5 355v3M1299 358.5h3M1300.5 357v3M1300 360.5h3M1301.5 359v3M1303 367.5h3M1304.5 366v3M1303 365.5h3M1304.5 364v3M1304 365.5h3M1305.5 364v3M1305 364.5h3M1306.5 363v3M1306 363.5h3M1307.5 362v3M1307 361.5h3M1308.5 360v3M1308 359.5h3M1309.5 358v3M1309 358.5h3M1310.5 357v3M1310 356.5h3M1311.5 355v3M1311 354.5h3M1312.5 353v3M1312 353.5h3M1313.5 352v3M1313 352.5h3M1314.5 351v3M1314 353.5h3M1315.5 352v3M1315 351.5h3M1316.5 350v3M1316 350.5h3M1317.5 349v3M1317 349.5h3M1318.5 348v3M1318 348.5h3M1319.5 347v3M1319 348.5h3M1320.5 347v3M1320 346.5h3M1321.5 345v3M1321 345.5h3M1322.5 344v3M1322 345.5h3M1323.5 344v3M1323 345.5h3M1324.5 344v3M1324 346.5h3M1325.5 345v3M1325 347.5h3M1326.5 346v3M1326 348.5h3M1327.5 347v3M1327 350.5h3M1328.5 349v3M1327 351.5h3M1328.5 350v3M1328 351.5h3M1329.5 350v3M1329 349.5h3M1330.5 348v3M1330 348.5h3M1331.5 347v3M1331 346.5h3M1332.5 345v3M1332 344.5h3M1333.5 343v3M1333 342.5h3M1334.5 341v3M1334 340.5h3M1335.5 339v3M1335 339.5h3M1336.5 338v3M1336 338.5h3M1337.5 337v3M1337 336.5h3M1338.5 335v3M1338 336.5h3M1339.5 335v3M1339 335.5h3M1340.5 334v3M1340 333.5h3M1341.5 332v3M1341 333.5h3M1342.5 332v3M1342 332.5h3M1343.5 331v3M1343 332.5h3M1344.5 331v3M1344 334.5h3M1345.5 333v3M1345 334.5h3M1346.5 333v3M1346 334.5h3M1347.5 333v3M1347 333.5h3M1348.5 332v3M1348 331.5h3M1349.5 330v3M1349 331.5h3M1350.5 330v3M1350 329.5h3M1351.5 328v3M1351 328.5h3M1352.5 327v3M1351 327.5h3M1352.5 326v3M1352 326.5h3M1353.5 325v3M1353 324.5h3M1354.5 323v3M1354 323.5h3M1355.5 322v3M1355 321.5h3M1356.5 320v3M1356 320.5h3M1357.5 319v3M1357 319.5h3M1358.5 318v3M1358 317.5h3M1359.5 316v3M1359 316.5h3M1360.5 315v3M1360 316.5h3M1361.5 315v3M1361 315.5h3M1362.5 314v3M1362 315.5h3M1363.5 314v3M1363 315.5h3M1364.5 314v3M1364 319.5h3M1365.5 318v3M1365 322.5h3M1366.5 321v3M1366 324.5h3M1367.5 323v3M1367 326.5h3M1368.5 325v3M1368 329.5h3M1369.5 328v3M1369 331.5h3M1370.5 330v3M1370 332.5h3M1371.5 331v3M1371 333.5h3M1372.5 332v3M1372 334.5h3M1373.5 333v3M1373 335.5h3M1374.5 334v3M1380 348.5h3M1381.5 347v3M1381 348.5h3M1382.5 347v3M1382 348.5h3M1383.5 347v3M1383 348.5h3M1384.5 347v3M1384 348.5h3M1385.5 347v3M1385 348.5h3M1386.5 347v3M1390 362.5h3M1391.5 361v3M1391 361.5h3M1392.5 360v3M1392 359.5h3M1393.5 358v3M1393 357.5h3M1394.5 356v3M1394 356.5h3M1395.5 355v3M1395 354.5h3M1396.5 353v3M1396 354.5h3M1397.5 353v3M1397 353.5h3M1398.5 352v3M1397 352.5h3M1398.5 351v3M1398 351.5h3M1399.5 350v3M1399 350.5h3M1400.5 349v3M1400 349.5h3M1401.5 348v3M1401 348.5h3M1402.5 347v3M1402 346.5h3M1403.5 345v3M1403 345.5h3M1404.5 344v3M1404 343.5h3M1405.5 342v3M1405 339.5h3M1406.5 338v3M1406 338.5h3M1407.5 337v3M1407 337.5h3M1408.5 336v3M1409 343.5h3M1410.5 342v3M1410 343.5h3M1411.5 342v3M1411 342.5h3M1412.5 341v3M1412 341.5h3M1413.5 340v3M1413 342.5h3M1414.5 341v3M1414 348.5h3M1415.5 347v3M1415 348.5h3M1416.5 347v3M1416 347.5h3M1417.5 346v3M1417 346.5h3M1418.5 345v3M1418 346.5h3M1419.5 345v3M1419 345.5h3M1420.5 344v3M1420 343.5h3M1421.5 342v3M1421 342.5h3M1422.5 341v3M1422 341.5h3M1423.5 340v3M1423 340.5h3M1424.5 339v3M1427 342.5h3M1428.5 341v3M1428 337.5h3M1429.5 336v3M1429 334.5h3M1430.5 333v3M1430 331.5h3M1431.5 330v3M1431 330.5h3M1432.5 329v3M1432 329.5h3M1433.5 328v3M1433 328.5h3M1434.5 327v3M1434 327.5h3M1435.5 326v3M1437 333.5h3M1438.5 332v3M1437 331.5h3M1438.5 330v3M1438 330.5h3M1439.5 329v3M1439 328.5h3M1440.5 327v3M1440 327.5h3M1441.5 326v3M1441 325.5h3M1442.5 324v3M1442 323.5h3M1443.5 322v3M1443 321.5h3M1444.5 320v3M1444 319.5h3M1445.5 318v3M1445 317.5h3M1446.5 316v3M1446 316.5h3M1447.5 315v3M1447 315.5h3M1448.5 314v3M1448 313.5h3M1449.5 312v3M1449 313.5h3M1450.5 312v3M1450 311.5h3M1451.5 310v3M1451 310.5h3M1452.5 309v3M1452 308.5h3M1453.5 307v3M1453 307.5h3M1454.5 306v3M1454 305.5h3M1455.5 304v3M1455 304.5h3M1456.5 303v3M1456 304.5h3M1457.5 303v3M1457 305.5h3M1458.5 304v3M1458 305.5h3M1459.5 304v3M1459 306.5h3M1460.5 305v3M1460 304.5h3M1461.5 303v3M1461 304.5h3M1462.5 303v3M1461 302.5h3M1462.5 301v3M1462 301.5h3M1463.5 300v3M1463 300.5h3M1464.5 299v3M1464 300.5h3M1465.5 299v3M1465 299.5h3M1466.5 298v3M1466 298.5h3M1467.5 297v3M1467 297.5h3M1468.5 296v3M1468 296.5h3M1469.5 295v3M1469 295.5h3M1470.5 294v3M1470 294.5h3M1471.5 293v3M1471 291.5h3M1472.5 290v3M1472 289.5h3M1473.5 288v3M1473 288.5h3M1474.5 287v3M1474 286.5h3M1475.5 285v3M1475 284.5h3M1476.5 283v3M1476 283.5h3M1477.5 282v3M1477 282.5h3M1478.5 281v3M1478 281.5h3M1479.5 280v3M1479 280.5h3M1480.5 279v3M1480 279.5h3M1481.5 278v3M1481 279.5h3M1482.5 278v3M1482 278.5h3M1483.5 277v3M1483 277.5h3M1484.5 276v3M1484 275.5h3M1485.5 274v3M103 757.5h3M104.5 756v3M104 757.5h3M105.5 756v3M105 756.5h3M106.5 755v3M106 756.5h3M107.5 755v3M486 680.5h3M487.5 679v3M486 679.5h3M487.5 678v3M487 678.5h3M488.5 677v3M488 677.5h3M489.5 676v3M489 676.5h3M490.5 675v3M490 675.5h3M491.5 674v3M491 675.5h3M492.5 674v3M492 674.5h3M493.5 673v3M493 672.5h3M494.5 671v3M509 654.5h3M510.5 653v3M509 651.5h3M510.5 650v3M510 648.5h3M511.5 647v3M689 543.5h3M690.5 542v3M690 542.5h3M691.5 541v3M691 540.5h3M692.5 539v3M692 538.5h3M693.5 537v3M693 537.5h3M694.5 536v3M694 535.5h3M695.5 534v3M695 532.5h3M696.5 531v3M707 492.5h3M708.5 491v3M707 489.5h3M708.5 488v3M708 485.5h3M709.5 484v3M709 482.5h3M710.5 481v3M337 691.5h3M338.5 690v3M337 690.5h3M338.5 689v3M338 688.5h3M339.5 687v3M339 688.5h3M340.5 687v3M340 687.5h3M341.5 686v3M341 686.5h3M342.5 685v3M342 685.5h3M343.5 684v3M1048 248.5h3M1049.5 247v3M1049 246.5h3M1050.5 245v3M1050 243.5h3M1051.5 242v3M1051 241.5h3M1052.5 240v3M1052 238.5h3M1053.5 237v3M1053 235.5h3M1054.5 234v3M1140 132.5h3M1141.5 131v3M1141 130.5h3M1142.5 129v3M1142 127.5h3M1143.5 126v3M1143 124.5h3M1144.5 123v3M826 239.5h3M827.5 238v3M826 241.5h3M827.5 240v3M827 244.5h3M828.5 243v3M244 726.5h3M245.5 725v3M266 722.5h3M267.5 721v3M295 696.5h3M296.5 695v3M597 596.5h3M598.5 595v3M128 758.5h3M129.5 757v3M1222 155.5h3M1223.5 154v3M1229 155.5h3M1230.5 154v3M1231 154.5h3M1232.5 153v3M1238 148.5h3M1239.5 147v3M1238 150.5h3M1239.5 149v3M1240 153.5h3M1241.5 152v3M1258 206.5h3M1259.5 205v3M1257 286.5h3M1258.5 285v3M1281 269.5h3M1282.5 268v3M1282 273.5h3M1283.5 272v3M1376 281.5h3M1377.5 280v3M1223 156.5h3M1224.5 155v3M1386 288.5h3M1387.5 287v3M1424 282.5h3M1425.5 281v3M960 266.5h3M961.5 265v3M961 264.5h3M962.5 263v3" stroke="#ff5252" stroke-width="1" fill="none"/>
<path d="M7 708.5h3M8.5 707v3M102 750.5h3M103.5 749v3M104 748.5h3M105.5 747v3M105 747.5h3M106.5 746v3M107 748.5h3M108.5 747v3M108 750.5h3M109.5 749v3M110 751.5h3M111.5 750v3M145 744.5h3M146.5 743v3M173 727.5h3M174.5 726v3M180 725.5h3M181.5 724v3M181 725.5h3M182.5 724v3M205 724.5h3M206.5 723v3M243 719.5h3M244.5 718v3M244 719.5h3M245.5 718v3M246 718.5h3M247.5 717v3M247 719.5h3M248.5 718v3M249 719.5h3M250.5 718v3M250 719.5h3M251.5 718v3M252 719.5h3M253.5 718v3M253 720.5h3M254.5 719v3M265 712.5h3M266.5 711v3M266 711.5h3M267.5 710v3M268 710.5h3M269.5 709v3M269 711.5h3M270.5 710v3M271 711.5h3M272.5 710v3M272 711.5h3M273.5 710v3M278 703.5h3M279.5 702v3M294 683.5h3M295.5 682v3M295 683.5h3M296.5 682v3M297 682.5h3M298.5 681v3M304 672.5h3M305.5 671v3M337 663.5h3M338.5 662v3M338 664.5h3M339.5 663v3M340 666.5h3M341.5 665v3M341 668.5h3M342.5 667v3M343 670.5h3M344.5 669v3M344 672.5h3M345.5 671v3M402 699.5h3M403.5 698v3M403 698.5h3M404.5 697v3M405 698.5h3M406.5 697v3M406 698.5h3M407.5 697v3M408 698.5h3M409.5 697v3M426 693.5h3M427.5 692v3M444 690.5h3M445.5 689v3M484 675.5h3M485.5 674v3M485 674.5h3M486.5 673v3M487 672.5h3M488.5 671v3M488 671.5h3M489.5 670v3M490 669.5h3M491.5 668v3M491 668.5h3M492.5 667v3M500 657.5h3M501.5 656v3M502 656.5h3M503.5 655v3M503 655.5h3M504.5 654v3M505 655.5h3M506.5 654v3M507 654.5h3M508.5 653v3M508 641.5h3M509.5 640v3M509 635.5h3M510.5 634v3M510 633.5h3M511.5 632v3M511 631.5h3M512.5 630v3M513 629.5h3M514.5 628v3M514 626.5h3M515.5 625v3M515 624.5h3M516.5 623v3M516 622.5h3M517.5 621v3M518 620.5h3M519.5 619v3M525 607.5h3M526.5 606v3M536 594.5h3M537.5 593v3M548 585.5h3M549.5 584v3M547 585.5h3M548.5 584v3M616 567.5h3M617.5 566v3M639 563.5h3M640.5 562v3M640 561.5h3M641.5 560v3M641 559.5h3M642.5 558v3M664 560.5h3M665.5 559v3M667 556.5h3M668.5 555v3M688 533.5h3M689.5 532v3M689 529.5h3M690.5 528v3M691 525.5h3M692.5 524v3M692 520.5h3M693.5 519v3M694 516.5h3M695.5 515v3M695 511.5h3M696.5 510v3M697 507.5h3M698.5 506v3M698 502.5h3M699.5 501v3M700 498.5h3M701.5 497v3M701 494.5h3M702.5 493v3M702 490.5h3M703.5 489v3M699 495.5h3M700.5 494v3M701 490.5h3M702.5 489v3M706 472.5h3M707.5 471v3M706 464.5h3M707.5 463v3M708 452.5h3M709.5 451v3M710 449.5h3M711.5 448v3M712 446.5h3M713.5 445v3M713 442.5h3M714.5 441v3M715 439.5h3M716.5 438v3M716 427.5h3M717.5 426v3M717 421.5h3M718.5 420v3M720 401.5h3M721.5 400v3M721 397.5h3M722.5 396v3M722 392.5h3M723.5 391v3M723 392.5h3M724.5 391v3M725 391.5h3M726.5 390v3M726 390.5h3M727.5 389v3M727 390.5h3M728.5 389v3M729 384.5h3M730.5 383v3M747 348.5h3M748.5 347v3M747 347.5h3M748.5 346v3M751 335.5h3M752.5 334v3M752 326.5h3M753.5 325v3M753 321.5h3M754.5 320v3M756 317.5h3M757.5 316v3M763 294.5h3M764.5 293v3M771 267.5h3M772.5 266v3M772 264.5h3M773.5 263v3M773 261.5h3M774.5 260v3M774 258.5h3M775.5 257v3M776 255.5h3M777.5 254v3M777 252.5h3M778.5 251v3M778 249.5h3M779.5 248v3M804 200.5h3M805.5 199v3M805 199.5h3M806.5 198v3M807 200.5h3M808.5 199v3M809 201.5h3M810.5 200v3M811 202.5h3M812.5 201v3M813 202.5h3M814.5 201v3M826 192.5h3M827.5 191v3M828 197.5h3M829.5 196v3M829 202.5h3M830.5 201v3M830 205.5h3M831.5 204v3M825 209.5h3M826.5 208v3M831 213.5h3M832.5 212v3M874 323.5h3M875.5 322v3M874 321.5h3M875.5 320v3M895 266.5h3M896.5 265v3M896 266.5h3M897.5 265v3M900 259.5h3M901.5 258v3M901 258.5h3M902.5 257v3M904 249.5h3M905.5 248v3M905 247.5h3M906.5 246v3M906 247.5h3M907.5 246v3M912 240.5h3M913.5 239v3M912 237.5h3M913.5 236v3M914 233.5h3M915.5 232v3M960 234.5h3M961.5 233v3M962 237.5h3M963.5 236v3M963 239.5h3M964.5 238v3M964 243.5h3M965.5 242v3M965 246.5h3M966.5 245v3M966 248.5h3M967.5 247v3M959 240.5h3M960.5 239v3M958 246.5h3M959.5 245v3M1051 211.5h3M1052.5 210v3M1053 199.5h3M1054.5 198v3M1055 194.5h3M1056.5 193v3M1056 193.5h3M1057.5 192v3M1057 191.5h3M1058.5 190v3M1143 84.5h3M1144.5 83v3M1145 91.5h3M1146.5 90v3M1146 96.5h3M1147.5 95v3M1147 101.5h3M1148.5 100v3M1148 106.5h3M1149.5 105v3M1138 102.5h3M1139.5 101v3M1139 104.5h3M1140.5 103v3M1141 101.5h3M1142.5 100v3M1142 105.5h3M1143.5 104v3M1140 103.5h3M1141.5 102v3M1221 136.5h3M1222.5 135v3M1223 138.5h3M1224.5 137v3M1225 139.5h3M1226.5 138v3M1227 140.5h3M1228.5 139v3M1221 140.5h3M1222.5 139v3M1223 136.5h3M1224.5 135v3M1227 139.5h3M1228.5 138v3M1229 133.5h3M1230.5 132v3M1231 130.5h3M1232.5 129v3M1233 136.5h3M1234.5 135v3M1235 136.5h3M1236.5 135v3M1224 138.5h3M1225.5 137v3M1230 132.5h3M1231.5 131v3M1238 112.5h3M1239.5 111v3M1239 116.5h3M1240.5 115v3M1237 120.5h3M1238.5 119v3M1241 122.5h3M1242.5 121v3M1242 124.5h3M1243.5 123v3M1243 130.5h3M1244.5 129v3M1244 133.5h3M1245.5 132v3M1245 136.5h3M1246.5 135v3M1246 141.5h3M1247.5 140v3M1256 172.5h3M1257.5 171v3M1258 174.5h3M1259.5 173v3M1259 175.5h3M1260.5 174v3M1260 181.5h3M1261.5 180v3M1261 184.5h3M1262.5 183v3M1262 192.5h3M1263.5 191v3M1257 173.5h3M1258.5 172v3M1281 240.5h3M1282.5 239v3M1282 242.5h3M1283.5 241v3M1283 248.5h3M1284.5 247v3M1284 252.5h3M1285.5 251v3M1328 263.5h3M1329.5 262v3M1369 258.5h3M1370.5 257v3M1372 261.5h3M1373.5 260v3M1374 263.5h3M1375.5 262v3M1376 260.5h3M1377.5 259v3M1378 263.5h3M1379.5 262v3M1380 267.5h3M1381.5 266v3M1381 270.5h3M1382.5 269v3M1382 271.5h3M1383.5 270v3M1375 261.5h3M1376.5 260v3M1371 260.5h3M1372.5 259v3M1373 262.5h3M1374.5 261v3M1387 262.5h3M1388.5 261v3M1388 262.5h3M1389.5 261v3M1389 264.5h3M1390.5 263v3M1391 266.5h3M1392.5 265v3M1392 268.5h3M1393.5 267v3M1390 265.5h3M1391.5 264v3M1426 261.5h3M1427.5 260v3M1427 259.5h3M1428.5 258v3M1428 261.5h3M1429.5 260v3M1427 258.5h3M1428.5 257v3M1436 248.5h3M1437.5 247v3M1470 227.5h3M1471.5 226v3" stroke="#45a549" stroke-width="1" fill="none"/>
<text x="6.6" y="752.1" textLength="65.2" lengthAdjust="spacingAndGlyphs" font-size="9.0" fill="#c242ee" stroke="#c242ee" stroke-width="0.45" font-weight="normal">y(s) order long</text>
<text x="8.8" y="738.2" textLength="29" lengthAdjust="spacingAndGlyphs" font-size="9.0" fill="#c242ee" stroke="#c242ee" stroke-width="0.45" font-weight="normal">191982</text>
<text x="128.2" y="721.8" textLength="109.7" lengthAdjust="spacingAndGlyphs" font-size="9.0" fill="#c242ee" stroke="#c242ee" stroke-width="0.45" font-weight="normal">Close entry(s) order long</text>
<text x="161.3" y="707.9" textLength="41.9" lengthAdjust="spacingAndGlyphs" font-size="9.0" fill="#c242ee" stroke="#c242ee" stroke-width="0.45" font-weight="normal">-0.190996</text>
<text x="209.8" y="707.8" textLength="109.9" lengthAdjust="spacingAndGlyphs" font-size="9.0" fill="#c242ee" stroke="#c242ee" stroke-width="0.45" font-weight="normal">Close entry(s) order long</text>
<text x="243" y="693.9" textLength="42" lengthAdjust="spacingAndGlyphs" font-size="9.0" fill="#c242ee" stroke="#c242ee" stroke-width="0.45" font-weight="normal">-0.188711</text>
<text x="249.2" y="676.9" textLength="109.4" lengthAdjust="spacingAndGlyphs" font-size="9.0" fill="#c242ee" stroke="#c242ee" stroke-width="0.45" font-weight="normal">Close entry(s) order long</text>
<text x="282.1" y="662.9" textLength="42.7" lengthAdjust="spacingAndGlyphs" font-size="9.0" fill="#c242ee" stroke="#c242ee" stroke-width="0.45" font-weight="normal">-0.185014</text>
<text x="563.9" y="573.8" textLength="110.5" lengthAdjust="spacingAndGlyphs" font-size="9.0" fill="#c242ee" stroke="#c242ee" stroke-width="0.45" font-weight="normal">Close entry(s) order long</text>
<text x="597" y="560.1" textLength="42" lengthAdjust="spacingAndGlyphs" font-size="9.0" fill="#c242ee" stroke="#c242ee" stroke-width="0.45" font-weight="normal">-0.184131</text>
<text x="630.2" y="521.8" textLength="109.8" lengthAdjust="spacingAndGlyphs" font-size="9.0" fill="#c242ee" stroke="#c242ee" stroke-width="0.45" font-weight="normal">Close entry(s) order long</text>
<text x="662.7" y="508.1" textLength="42.6" lengthAdjust="spacingAndGlyphs" font-size="9.0" fill="#c242ee" stroke="#c242ee" stroke-width="0.45" font-weight="normal">-0.158783</text>
<text x="774" y="337" textLength="110" lengthAdjust="spacingAndGlyphs" font-size="9.0" fill="#c242ee" stroke="#c242ee" stroke-width="0.45" font-weight="normal">Close entry(s) order long</text>
<text x="807.1" y="323" textLength="42" lengthAdjust="spacingAndGlyphs" font-size="9.0" fill="#c242ee" stroke="#c242ee" stroke-width="0.45" font-weight="normal">-0.155787</text>
<text x="1053.2" y="162.9" textLength="109.8" lengthAdjust="spacingAndGlyphs" font-size="9.0" fill="#c242ee" stroke="#c242ee" stroke-width="0.45" font-weight="normal">Close entry(s) order long</text>
<text x="1087" y="149" textLength="41.8" lengthAdjust="spacingAndGlyphs" font-size="9.0" fill="#c242ee" stroke="#c242ee" stroke-width="0.45" font-weight="normal">-0.116717</text>
<text x="1098" y="216.8" textLength="110" lengthAdjust="spacingAndGlyphs" font-size="9.0" fill="#c242ee" stroke="#c242ee" stroke-width="0.45" font-weight="normal">Close entry(s) order long</text>
<text x="1131.7" y="202.7" textLength="41.9" lengthAdjust="spacingAndGlyphs" font-size="9.0" fill="#c242ee" stroke="#c242ee" stroke-width="0.45" font-weight="normal">-0.115633</text>
<text x="119.3" y="780.8" textLength="16.7" lengthAdjust="spacingAndGlyphs" font-size="9.0" fill="#1e90ff" stroke="#1e90ff" stroke-width="0.45" font-weight="normal">long</text>
<text x="106.5" y="793" textLength="43.8" lengthAdjust="spacingAndGlyphs" font-size="9.0" fill="#1e90ff" stroke="#1e90ff" stroke-width="0.45" font-weight="normal">+0.190996</text>
<text x="237.9" y="765.9" textLength="17.2" lengthAdjust="spacingAndGlyphs" font-size="9.0" fill="#1e90ff" stroke="#1e90ff" stroke-width="0.45" font-weight="normal">long</text>
<text x="225.3" y="777.8" textLength="42.7" lengthAdjust="spacingAndGlyphs" font-size="9.0" fill="#1e90ff" stroke="#1e90ff" stroke-width="0.45" font-weight="normal">+0.188711</text>
<text x="258.5" y="749.8" textLength="17" lengthAdjust="spacingAndGlyphs" font-size="9.0" fill="#1e90ff" stroke="#1e90ff" stroke-width="0.45" font-weight="normal">long</text>
<text x="245.9" y="761.9" textLength="42.8" lengthAdjust="spacingAndGlyphs" font-size="9.0" fill="#1e90ff" stroke="#1e90ff" stroke-width="0.45" font-weight="normal">+0.185014</text>
<text x="335.4" y="750.9" textLength="16.6" lengthAdjust="spacingAndGlyphs" font-size="9.0" fill="#1e90ff" stroke="#1e90ff" stroke-width="0.45" font-weight="normal">long</text>
<text x="322.5" y="763" textLength="42.7" lengthAdjust="spacingAndGlyphs" font-size="9.0" fill="#1e90ff" stroke="#1e90ff" stroke-width="0.45" font-weight="normal">+0.184131</text>
<text x="634" y="599.8" textLength="16.5" lengthAdjust="spacingAndGlyphs" font-size="9.0" fill="#1e90ff" stroke="#1e90ff" stroke-width="0.45" font-weight="normal">long</text>
<text x="621.3" y="611.3" textLength="43.6" lengthAdjust="spacingAndGlyphs" font-size="9.0" fill="#1e90ff" stroke="#1e90ff" stroke-width="0.45" font-weight="normal">+0.158783</text>
<text x="675.9" y="577.1" textLength="17.1" lengthAdjust="spacingAndGlyphs" font-size="9.0" fill="#1e90ff" stroke="#1e90ff" stroke-width="0.45" font-weight="normal">long</text>
<text x="663" y="588.8" textLength="43.2" lengthAdjust="spacingAndGlyphs" font-size="9.0" fill="#1e90ff" stroke="#1e90ff" stroke-width="0.45" font-weight="normal">+0.155787</text>
<text x="1042.9" y="219.9" textLength="17.2" lengthAdjust="spacingAndGlyphs" font-size="9.0" fill="#1e90ff" stroke="#1e90ff" stroke-width="0.45" font-weight="normal">long</text>
<text x="1030.3" y="232" textLength="43.7" lengthAdjust="spacingAndGlyphs" font-size="9.0" fill="#1e90ff" stroke="#1e90ff" stroke-width="0.45" font-weight="normal">+0.116717</text>
<text x="1135" y="208.5" textLength="17" lengthAdjust="spacingAndGlyphs" font-size="9.0" fill="#1e90ff" stroke="#1e90ff" stroke-width="0.45" font-weight="normal">long</text>
<text x="1122.4" y="220.8" textLength="42.8" lengthAdjust="spacingAndGlyphs" font-size="9.0" fill="#1e90ff" stroke="#1e90ff" stroke-width="0.45" font-weight="normal">+0.115633</text>
<text x="1419.2" y="313.3" textLength="16.5" lengthAdjust="spacingAndGlyphs" font-size="9.0" fill="#1e90ff" stroke="#1e90ff" stroke-width="0.45" font-weight="normal">long</text>
<text x="1406.3" y="325.5" textLength="43.4" lengthAdjust="spacingAndGlyphs" font-size="9.0" fill="#1e90ff" stroke="#1e90ff" stroke-width="0.45" font-weight="normal">+0.124624</text>
<path d="M7.5 771.3V776.5M8.5 774.5V775.1M8.5 777.5V778.9M10.5 767.8V773.4M10.5 774.8V776.7M11.5 772.6V774.8M12.5 772.3V775M12.5 776V778.9M13.5 776V779.4M14.5 773.5V774.1M14.5 775.1V776.5M15.5 770.1V774M19.5 783.5V784.7M19.5 781.5V783.2M20.5 774.4V777.1M20.5 779.2V781.5M22.5 776.8V778.6M22.5 779.6V781.6M23.5 775.4V776.6M23.5 779.5V781.6M24.5 770.3V773.6M25.5 773.6V774.2M26.5 762.4V766.3M26.5 770V773.9M27.5 762.9V766.3M30.5 765.7V771.1M30.5 772.1V779.7M31.5 769V771.4M32.5 772.6V773.9M35.5 775.1V778.6M36.5 771.4V772.2M36.5 775.1V778.8M37.5 772.2V776.9M38.5 764V766.8M38.5 770.1V771.2M39.5 770.7V771.1M40.5 769.7V770.7M42.5 763.7V768.4M42.5 771.2V773M43.5 765.8V766.8M44.5 759.9V765.7M45.5 763.9V764.4M45.5 766.9V771M48.5 768.6V770.2M49.5 766.9V768.6M50.5 769.3V770.9M50.5 772V772.7M52.5 771.2V771.7M53.5 769.8V772.9M54.5 766V768.2M56.5 764.3V769.2M57.5 769.3V774M58.5 765.1V767.6M58.5 768.6V770.4M60.5 767.6V769.6M61.5 772.1V775.9M62.5 765.8V768.7M63.5 766.8V767.2M63.5 768.7V769.5M65.5 768.8V771.5M65.5 774.5V777.3M66.5 775.5V777.4M68.5 773.5V775.1M69.5 777.2V777.6M70.5 777.2V778M71.5 775.8V776.5M72.5 767.8V771.6M72.5 773.7V776.5M73.5 771.6V773.8M74.5 767.9V768.6M74.5 770.5V772.5M75.5 766.1V768.6M75.5 769.6V770M76.5 766.9V769.6M78.5 771.2V771.6M80.5 761.2V766.3M81.5 760.4V764.6M81.5 766.3V767.7M82.5 768V768.4M84.5 757.1V757.4M85.5 749.9V753.5M85.5 757.4V758.2M86.5 751.8V753.5M87.5 758.3V759M88.5 754.6V755.5M89.5 753V753.7M89.5 755.5V756.9M90.5 755.7V757.9M91.5 757.9V760.9M92.5 760.4V761.1M92.5 755.1V759.5M93.5 756.2V758.4M93.5 759.5V761.6M94.5 758.4V759.1M96.5 753.6V755.4M96.5 757.6V764.4M98.5 756.7V758.8M99.5 754.3V758.2M100.5 755.7V758M101.5 758.6V762.1M104.5 776.5V777.2M104.5 784.9V786.2M109.5 778.5V781.6M109.5 783.9V786.6M110.5 783.4V788.3M111.5 783.4V788.2M113.5 778.9V779.2M114.5 779.6V780.7M115.5 775V776.9M116.5 771.9V774.4M116.5 769.6V773.9M116.5 774.9V776.2M118.5 774.7V777.3M119.5 771.5V773.8M120.5 774.3V776.8M121.5 773.8V776M122.5 766.9V770.8M122.5 772.8V775.2M123.5 766.2V767.3M123.5 770.8V771.8M124.5 760.2V761.9M124.5 767.3V769.9M125.5 761.9V764.9M126.5 752.8V757.3M127.5 741.6V746.4M127.5 747.7V752.8M128.5 744V746.4M128.5 749.7V752.1M129.5 744.8V747.2M130.5 744.6V745.4M130.5 747.2V750M131.5 746.4V747.9M132.5 747.9V754.5M133.5 740.7V747.9M134.5 749.3V752.2M135.5 744.9V745.2M136.5 735.6V742.5M136.5 745.2V751.4M137.5 741.4V742.5M139.5 744.5V748.2M139.5 750.3V754M140.5 743.7V746.9M140.5 748.2V751M141.5 747V748.2M142.5 742.2V747M142.5 748.7V752.2M143.5 748.7V754.1M144.5 745.4V746.2M144.5 747.6V750.6M145.5 743V744.5M145.5 746.2V748.2M147.5 749.9V753.2M148.5 745V747.8M149.5 738.7V745.6M149.5 747.8V755.7M150.5 736.6V743.3M152.5 744.5V746.8M154.5 742.1V743.2M156.5 739.6V743.1M157.5 737.7V739.6M158.5 741.3V742.5M159.5 735.8V737.9M160.5 733.2V736.6M161.5 739.2V744.7M164.5 735V740.6M165.5 741.4V743.5M165.5 740.4V745.2M166.5 734.1V737.9M167.5 734.1V737.9M167.5 739.2V741.8M168.5 735.3V739.2M168.5 740.2V742.9M169.5 741.2V743.8M170.5 741.2V742.1M171.5 734.6V735.1M171.5 738.5V741.7M173.5 733.8V734.5M174.5 734.8V735.5M175.5 732.6V734.2M176.5 735.4V739.2M177.5 729.2V733.3M177.5 734.3V738.9M178.5 737.8V738.8M180.5 738.1V742.9M181.5 741.2V744.4M181.5 746.2V747.1M182.5 746.2V746.8M183.5 744.9V745.4M184.5 747.9V751.5M185.5 749.4V750.4M188.5 741.3V742.8M188.5 744.5V750.8M189.5 745.5V753M190.5 743.1V747.4M191.5 740.9V743.2M192.5 739.2V739.7M193.5 737V737.9M193.5 739.2V740.2M195.5 734.6V736.7M195.5 738.1V739.9M197.5 732.6V734M197.5 735.1V739.6M198.5 733.1V734M199.5 732.4V735.2M199.5 736.6V740.3M201.5 734.9V738.4M203.5 731.2V732.5M204.5 723.8V729M206.5 726.6V728.8M206.5 729.8V732.5M207.5 725V727M208.5 723.2V725.3M208.5 727V729.6M209.5 724.5V724.9M210.5 718.3V724.9M210.5 725.9V727.8M212.5 733V735.2M213.5 731V732.4M213.5 733.4V735.5M213.5 732.4V734.2M214.5 723.4V729.8M214.5 731.2V732M215.5 729.8V730.4M218.5 727.6V729.6M218.5 732V736.3M219.5 730.7V732M219.5 735V739.6M221.5 736.6V737.3M222.5 736.7V741.8M223.5 730.5V732.8M223.5 735.7V736.5M224.5 733.8V734.8M225.5 726.9V733.6M225.5 734.9V741.5M228.5 730.6V731.4M229.5 726.7V728.2M230.5 729.7V731.4M232.5 734V735M233.5 727.6V732.2M234.5 736.4V742.6M235.5 735.8V736.4M236.5 737.2V742.7M236.5 743.7V746.8M239.5 735V740.2M240.5 742.4V746.2M241.5 740.9V742.4M241.5 743.4V747M242.5 743.4V745.6M244.5 737.8V739.1M245.5 735.5V736.3M246.5 732.8V733.8M246.5 734.8V737.9M247.5 732.3V734.6M247.5 737.1V739.4M249.5 732.5V735.7M249.5 736.7V739.5M252.5 734.3V739.5M252.5 743V744.6M253.5 731.8V735.9M254.5 735.3V735.9M256.5 734V738.5M256.5 739.8V742.4M257.5 729.3V737.6M257.5 739.8V743.4M258.5 734.6V735.4M258.5 737.6V739.6M259.5 735.4V735.9M260.5 730.7V731.3M260.5 733.6V739M261.5 725.6V729M262.5 727.8V729M262.5 731.6V732.4M262.5 729.6V731.6M262.5 733.6V737.9M263.5 728.6V730M264.5 722.9V726.7M268.5 716.5V720.7M268.5 721.7V725.9M269.5 719.5V720.9M270.5 712.6V718.7M273.5 708V712.5M275.5 685.1V687.1M276.5 687.1V688M277.5 684.9V685.5M279.5 684.7V686.9M279.5 687.9V689.2M280.5 685.9V686.2M280.5 687.7V688.7M281.5 680.1V685.4M282.5 682.1V684.5M283.5 684.5V690M285.5 685.7V686.2M286.5 683.2V684.4M286.5 684.4V688.1M287.5 679.5V682M287.5 683V685.5M288.5 676.1V680.7M288.5 682V682.6M290.5 681.7V682.4M291.5 685.2V686.5M291.5 687.5V688.9M292.5 687.7V688.5M293.5 685.8V686.7M293.5 687.7V693M295.5 689.4V691.3M296.5 684.7V685.2M296.5 688.8V691M297.5 678V682M299.5 677.3V678.3M299.5 680.9V684.6M300.5 680V680.9M300.5 684.7V687.2M306.5 704V710.6M306.5 715.4V716.6M307.5 706.2V712.1M309.5 700.2V706.5M309.5 710.1V713.5M310.5 708.1V708.6M310.5 709.1V710.9M311.5 709.1V715.5M312.5 702.2V703.3M312.5 705.9V707.3M313.5 700.7V703.3M314.5 708.6V712.2M315.5 705.4V708.6M316.5 707.6V710.7M317.5 701.1V709.9M317.5 710.9V714.8M318.5 706.4V709.5M319.5 707.6V709.5M319.5 710.5V712.1M321.5 714.7V715.6M322.5 714V714.6M322.5 715.6V716.7M323.5 712.8V714.6M323.5 715.6V716.2M324.5 715.8V717.9M326.5 713.8V719.2M327.5 709V710.8M328.5 707.8V710.8M328.5 711.8V712.6M329.5 709.8V710.5M330.5 706V707.9M330.5 710.5V712.4M333.5 701.9V703.9M334.5 704V704.5M336.5 693.1V698.5M336.5 699.6V701.3M339.5 716.4V719.4M340.5 717.4V720.9M340.5 721.9V722.9M341.5 721.6V722.2M343.5 713.1V716.9M343.5 717.9V719.1M345.5 720.4V721.9M346.5 719.5V720.4M349.5 719.4V721.9M351.5 722.7V723.8M352.5 724.3V726.1M353.5 722.9V723.3M353.5 724.3V725.7M354.5 724.1V727.3M355.5 721.9V723.1M355.5 725.4V726.8M356.5 723.2V725.4M356.5 727.6V729M357.5 728.3V730.5M358.5 723.8V725.4M359.5 725.4V730.6M359.5 718.5V720.9M360.5 721.4V721.9M362.5 717.4V719.9M362.5 720.9V721.6M363.5 719.2V719.6M364.5 715.1V719.5M364.5 720.5V721.6M365.5 722.9V728.8M366.5 720.1V722.9M367.5 722V724.6M368.5 725.1V728.5M371.5 724.5V726M374.5 712.5V722.8M375.5 720.2V721M376.5 719.9V721M376.5 722V724.4M378.5 717.8V721.4M378.5 722.4V724.1M379.5 718V720.3M379.5 721.5V724.3M380.5 720.3V725.7M381.5 717.6V718M381.5 719V723.7M383.5 712.3V716.1M383.5 717.1V718.7M384.5 716.1V716.8M385.5 715.2V716.1M386.5 714.2V714.7M387.5 714.7V715.8M389.5 712.4V713.7M389.5 714.7V718.6M390.5 711.8V713.8M390.5 714.8V716.4M391.5 710.7V712M391.5 713.8V715.2M393.5 709.9V710.9M394.5 708.8V712.9M395.5 705.8V707.2M396.5 708.2V709.6M397.5 704.3V705.6M399.5 696V701.3M399.5 703.4V707.1M400.5 701.3V702.1M401.5 702.3V703.2M402.5 699.3V702.3M402.5 705.3V709M403.5 704.3V705.3M404.5 705.4V706.1M406.5 703.2V706.8M406.5 707.8V708.9M407.5 704.3V706.1M407.5 704.5V706.1M408.5 705.8V707.5M408.5 708.5V712.3M409.5 704.2V706.7M409.5 708.2V709.3M410.5 706.7V707.4M411.5 705.5V709.3M415.5 702.4V705.5M415.5 708.1V711.7M416.5 702.3V704.1M418.5 699.6V701.2M418.5 706.1V710.2M419.5 702.8V706.1M419.5 711.8V712.3M420.5 709.9V711.8M423.5 714.8V716M423.5 718.3V718.7M425.5 717V717.5M428.5 712.9V714.4M429.5 710.9V713.6M431.5 706V706.8M431.5 699.9V707.6M433.5 707.7V708.4M433.5 710.5V715.2M434.5 703.4V706.9M438.5 711.5V714.9M440.5 700.2V705M440.5 708.3V710.8M441.5 704.5V705M441.5 706V709.8M442.5 699.7V705M445.5 697.3V701.4M447.5 686.6V691.8M447.5 692.8V695.1M448.5 689.5V690.2M448.5 691.8V694.4M449.5 684.1V688.5M450.5 684.6V686.9M452.5 684.5V686.9M452.5 687.9V690.7M453.5 688.5V691.6M454.5 685.7V686.6M454.5 688V688.6M455.5 682.4V685.3M455.5 686.6V692.6M456.5 682.7V684.4M456.5 679.2V683.3M457.5 683.6V684.6M458.5 684.4V687.3M459.5 683.7V684.4M460.5 685V685.5M461.5 685.5V690.3M462.5 681.7V682.5M464.5 680V684.7M464.5 686.6V688.2M465.5 687.9V689.7M466.5 687.9V688.2M467.5 682.3V685.1M467.5 686.6V689.9M468.5 686.3V687.3M469.5 687.3V688M470.5 684.8V687.3M470.5 688.6V691M473.5 685.5V685.9M475.5 688.6V693.4M478.5 683.2V683.7M480.5 677.5V681.6M480.5 683.6V684.6M480.5 681.6V686.2M481.5 679.2V683.4M482.5 675.4V676.2M483.5 673.9V676.2M484.5 670.8V676.1M484.5 677.1V678.2M485.5 676.1V679.5M486.5 673.6V675.2M487.5 670.7V671.4M488.5 667.8V670.7M489.5 662.6V665M489.5 667V667.6M490.5 667V667.4M491.5 662.3V662.6M492.5 655.9V661.2M494.5 660.5V663.3M495.5 663.4V666.4M496.5 665.1V668.2M497.5 662.1V665.1M498.5 661.9V664.6M499.5 663.7V664.2M500.5 663.7V664.2M500.5 665.2V666.9M503.5 654.6V658.8M503.5 661.6V663.1M504.5 652V655.7M504.5 658.8V659.9M504.5 649.2V650.3M505.5 646.3V646.8M506.5 636.1V643.6M507.5 640.1V643.1M509.5 633.3V636.2M510.5 615.1V616.3M511.5 605.6V616.8M512.5 602.8V609.1M513.5 607.1V620.6M514.5 609.7V611.7M515.5 604.4V607.2M515.5 609.7V619.3M516.5 597.7V606.4M517.5 606.8V615.5M518.5 597V605.8M519.5 606V613.1M519.5 621.1V624.2M520.5 614.4V616.2M522.5 607.3V610M522.5 613.3V614.9M523.5 602.8V605.7M523.5 610V615.3M524.5 598.4V605.7M525.5 596V603.5M526.5 603.5V608.6M527.5 595.9V606.6M528.5 601.7V606M528.5 595.5V601.7M528.5 602.7V603.2M530.5 587.2V602.1M531.5 605.2V615.8M532.5 598.8V605.2M534.5 613.2V615.9M535.5 610.8V611.6M535.5 612.6V620.9M536.5 599.7V610.4M539.5 641.7V643.9M541.5 620.1V630.3M541.5 634.5V635.3M544.5 630.6V641.1M548.5 598.5V599.9M549.5 598.1V603.8M549.5 609V613.5M550.5 609V610.5M551.5 601.4V606.1M552.5 598.3V602.8M552.5 606.1V609.8M553.5 598.7V608.9M553.5 613.8V626.6M555.5 619.6V623.7M556.5 618.3V620.7M557.5 608.8V613.6M558.5 613.6V614M560.5 612.6V613M561.5 615.4V618.3M562.5 609V615.4M563.5 619.5V626.1M564.5 611.7V613.2M565.5 604.2V613.2M566.5 615.6V616.4M566.5 617.6V619.2M567.5 614.5V617.6M568.5 606.3V612M568.5 618V622.1M570.5 607.6V609M571.5 610.2V610.6M572.5 615V616.7M573.5 619.7V622.5M575.5 619.5V622.1M577.5 624.6V626.7M577.5 630.9V632.5M578.5 625.1V628.2M578.5 630.9V632.6M579.5 620.6V624.5M579.5 628.2V636M580.5 618.8V621.5M581.5 621.5V627.9M582.5 615.8V617.7M582.5 618.7V622.1M583.5 609V617M584.5 617.5V618.1M585.5 616.5V617.4M586.5 610.8V615.5M587.5 599.5V606M587.5 609.6V613.2M588.5 612.7V617.2M589.5 600.6V606.8M590.5 606.8V608.1M591.5 596.2V601M592.5 603.6V607.7M593.5 609.3V610.5M596.5 589.1V598.8M596.5 606.3V617M597.5 579V586.1M597.5 598.8V604.1M599.5 572.8V574.1M600.5 571V574.1M601.5 575.8V577.3M601.5 577.7V579.5M601.5 580.5V586.9M603.5 569.1V576.4M604.5 570.9V575.1M606.5 575.3V577.5M607.5 579.9V582M608.5 579.8V588.2M609.5 579.2V587.2M610.5 572.7V578.2M614.5 584.9V585.7M618.5 603.5V608.4M618.5 613.3V618M619.5 602.5V609.4M619.5 613.3V614.4M620.5 600.1V603.4M620.5 609.4V611.6M621.5 601.3V603.4M622.5 600.2V605.4M624.5 600.9V604.9M625.5 589.2V596.1M625.5 604.9V607.7M625.5 597.7V607.3M626.5 597.2V597.7M627.5 600.7V610.4M628.5 597.8V603.3M629.5 591.6V594M629.5 596.5V597.7M631.5 593V595.9M632.5 591.2V594.5M632.5 595.9V609.7M633.5 591.2V591.7M633.5 594.5V602.4M637.5 580.2V588M638.5 574.5V581.9M639.5 565.9V575M640.5 569.4V569.9M641.5 562V568.4M641.5 569.9V573.8M642.5 565V568.4M642.5 576.1V577.8M643.5 569.5V572.7M644.5 572.7V581.4M647.5 565.8V571.2M647.5 576.2V577.5M648.5 577V578.3M649.5 575.1V576M649.5 577V582.4M650.5 570.3V576.1M650.5 573.6V578M650.5 579V581.3M651.5 573.1V578.9M651.5 580.9V581.9M652.5 573.3V580.9M652.5 586.5V588.6M653.5 584.3V586.5M653.5 590.6V597.5M654.5 591.6V592.3M655.5 587.1V587.8M655.5 591V597.1M657.5 576.8V579.5M658.5 585.7V598.5M659.5 573.4V579.5M660.5 562.9V574.8M661.5 574.8V577.9M664.5 565.4V568M665.5 568V569.2M666.5 556.3V561.2M667.5 561.2V562.5M668.5 549.2V557M668.5 567.1V571M669.5 567.1V574.3M673.5 546.5V551.1M673.5 552.1V560.3M674.5 549.1V551.2M674.5 539.5V551.2M674.5 552.2V557.8M676.5 550.5V551.4M676.5 552.4V556.2M677.5 539.7V545.5M679.5 532.4V538.1M680.5 530.3V537.9M681.5 544.9V553.7M682.5 536.6V544.9M682.5 549.5V551.6M683.5 544.7V545M684.5 536.1V538.5M684.5 545V545.6M685.5 533.1V538.5M685.5 542V545.2M686.5 542V542.9M688.5 523.8V524.4M688.5 526.5V527.8M689.5 515.2V521.1M689.5 524.4V532.5M690.5 510V513M691.5 503.9V504.5M692.5 495.8V496.7M693.5 486.1V489.5M695.5 484.6V490.5M697.5 489.7V494.7M698.5 481.8V482.5M698.5 487.1V490.1M698.5 483.5V487.3M699.5 485.1V487.6M700.5 471.4V475.6M701.5 457V467.4M701.5 475.6V478.1M702.5 467.4V469.8M703.5 459.8V462.5M703.5 465.2V468.2M704.5 452.2V453.3M704.5 462.5V470.9M706.5 420.8V431.5M706.5 442.7V445.9M707.5 431.5V435.7M710.5 420.2V427.4M712.5 413.9V419.5M712.5 425.5V431.2M715.5 387.1V394M716.5 377.3V394.6M716.5 397.3V403.8M718.5 378.7V388M724.5 458.7V466.5M725.5 454.5V457.5M725.5 458.5V463.3M726.5 458.2V459.5M728.5 437.2V437.9M729.5 437.9V446.7M731.5 448.4V458.8M732.5 438.7V448.4M734.5 453.3V454.9M735.5 430.8V440.5M735.5 446.6V451.8M736.5 431.7V435.4M736.5 440.5V441.5M737.5 435.4V441.8M739.5 415.3V424M739.5 429.7V434.3M740.5 435.5V448.2M741.5 438.9V444.1M742.5 438.9V446.1M743.5 425.6V430.4M744.5 391.3V412.2M745.5 389.5V393.8M745.5 412.2V415.1M746.5 363.2V371.6M746.5 393.8V399.7M747.5 317.7V325.3M747.5 309.8V325.3M749.5 327.2V350.7M750.5 294.5V311.4M750.5 321.9V334.7M751.5 281.9V298.5M752.5 274.2V285M753.5 296.3V305.4M754.5 311.1V324.7M755.5 307.2V309.8M755.5 311.1V317.6M757.5 297.4V299.5M758.5 307.5V323.8M759.5 299.1V301.9M760.5 292.6V304.2M761.5 269.5V277M765.5 263.1V272.3M766.5 250.9V257.5M766.5 272.3V275.1M767.5 292.6V320.5M770.5 273.7V278.8M773.5 294V298.4M775.5 303V318.7M775.5 333V333.7M776.5 318.7V328.6M777.5 263.5V285.9M777.5 301.8V307.2M779.5 251.8V275.3M780.5 267.5V282.5M781.5 290.7V292.1M782.5 284.4V285.6M782.5 290.7V305.4M785.5 264V278.3M785.5 283.8V302.2M786.5 264.5V270.2M786.5 278.3V285.3M788.5 264.4V276.5M788.5 278.1V285.3M789.5 283.1V294.8M790.5 270V282M790.5 283.1V287.5M793.5 280.5V284.4M795.5 270.2V272.3M796.5 248.5V252.8M799.5 256V257.2M799.5 269.1V271.2M801.5 215.2V231.7M804.5 256.3V265.7M804.5 268.3V276.6M807.5 270.5V278.2M808.5 254.6V266.8M809.5 270.1V274.4M809.5 285.1V293.5M810.5 288.5V297.3M811.5 290.5V294.1M812.5 287.2V290.5M812.5 291.6V311.5M813.5 266.5V285.2M814.5 281.5V285.2M814.5 295.1V307.5M815.5 284.9V295.1M816.5 299.5V304M817.5 283.1V285.7M817.5 293.1V302.4M819.5 285.5V287.6M819.5 297.4V315.3M819.5 290.9V297.4M822.5 302.9V329.6M826.5 402.8V412.2M827.5 402.8V406.5M828.5 386.9V396.6M828.5 402.6V411.4M829.5 400.3V402.6M831.5 406.3V409.4M831.5 410.4V418.5M832.5 402.4V406.9M833.5 406.9V410.9M834.5 399.8V401.7M835.5 400.5V401.7M835.5 408.1V410M836.5 417.8V431.7M838.5 404.4V406.6M838.5 411.9V417.3M839.5 394.3V406.6M839.5 414.3V417.1M840.5 410.8V414.3M840.5 419.8V430.7M842.5 426.7V435M843.5 415.7V416M843.5 425.7V427.9M844.5 405.1V407.2M844.5 416V424.4M844.5 376.2V397M844.5 407.2V409M845.5 397V406.5M846.5 385.2V390.1M847.5 377.8V386.2M847.5 390.1V395.3M848.5 378.3V383.7M849.5 381.3V382.5M851.5 376.2V378.4M852.5 371.2V375.9M853.5 395.8V413.1M854.5 390.5V394.6M854.5 395.8V398.7M855.5 394.6V400.4M856.5 385V387.5M856.5 389V397.9M857.5 394.4V397.6M858.5 389.3V394.4M858.5 398V405.5M859.5 401.2V407.8M860.5 393.5V396.6M860.5 401.2V409.8M861.5 396.6V410.5M862.5 385.7V389M863.5 384.6V388.9M864.5 393.6V394.3M865.5 390.5V393.6M866.5 405V413.4M867.5 393.1V403M868.5 391.3V399.2M869.5 382.2V386.3M870.5 348.7V354.5M870.5 386.3V390.7M871.5 326.1V329.9M874.5 287.1V297.9M875.5 293.4V300.2M876.5 288.1V293.4M877.5 297.1V315M878.5 263.2V283.2M880.5 263.6V270.3M880.5 277.3V282.2M881.5 274.8V275.3M882.5 285.7V290.4M884.5 287V293.4M884.5 296.5V298.7M885.5 284.4V288.3M885.5 293.4V313.4M886.5 288.3V299.1M887.5 250.8V274M887.5 281.6V284.3M889.5 271.2V275.9M890.5 274.3V279.3M891.5 267.7V273.4M891.5 282.8V287.1M894.5 270.3V276.9M894.5 281V313.9M895.5 261.1V281M895.5 285V297.4M896.5 273.4V285M896.5 286V290.1M897.5 278.1V283.9M897.5 285.4V295.5M898.5 276V283M899.5 274.3V283M899.5 288.6V308.3M900.5 282.6V288.6M901.5 303.9V309.8M902.5 293.2V303.9M903.5 306.5V313.7M907.5 304.4V315.1M908.5 291.4V306.8M909.5 304.8V306.8M909.5 321.4V343.5M911.5 310.2V319.7M911.5 322.2V326.2M912.5 294.5V307.9M913.5 295.1V295.9M913.5 307.9V310M915.5 292.4V300.2M917.5 279V281.1M917.5 292.4V293.6M918.5 284.5V292.4M919.5 302.6V303.6M921.5 285.5V291.1M923.5 284.7V291.6M924.5 284.5V292.4M927.5 265.9V284.7M928.5 272.3V282.7M929.5 295.9V300.2M930.5 286.2V295.9M931.5 295.7V299.1M932.5 295.4V296.9M932.5 299.1V300.4M933.5 296.9V297.4M936.5 264.4V282.5M936.5 283.5V294.6M937.5 276.1V277.4M939.5 267.4V278.2M939.5 279.4V300M941.5 264.2V280.8M941.5 289.1V293.4M942.5 291.6V295.1M943.5 282.6V292.4M943.5 295.1V310.9M944.5 292.4V303.6M945.5 288.8V289.7M945.5 296V304.7M948.5 294.3V297.8M948.5 300.1V303.5M949.5 273.9V294.8M950.5 304.7V322.3M951.5 304.7V311.8M952.5 299.6V300M953.5 278.6V288.1M953.5 294.6V304.5M955.5 267.7V277.9M956.5 277.2V281.1M957.5 296.6V304.3M963.5 339.8V353.5M963.5 356.8V359.4M964.5 342.5V345.3M964.5 356.8V358.3M965.5 332.4V335.8M965.5 323.9V335.8M965.5 344.2V355.5M966.5 328V344.2M967.5 337.4V348.6M972.5 351.9V364.6M973.5 331V342.7M974.5 325.5V333.9M974.5 342.7V356.5M976.5 311.9V317.6M976.5 325.8V331.7M977.5 319.2V334.4M978.5 315.5V319.2M978.5 321.8V324.3M979.5 321.8V327.8M982.5 304.6V311.4M982.5 316.1V317M984.5 304.6V306.4M985.5 300.6V301M985.5 305.7V311.5M986.5 302V305.7M986.5 306.7V307.5M987.5 306.4V314.2M988.5 298.4V305.1M989.5 302.8V303.1M989.5 304.2V308.7M990.5 297.2V298.1M990.5 303.1V304.9M991.5 289.2V292.7M991.5 298.1V308.5M992.5 285.8V286.7M993.5 278.9V281.2M993.5 286.7V289.9M994.5 272.9V276.1M994.5 281.2V284.4M995.5 276.1V281.5M996.5 271.3V271.8M996.5 275.4V277.5M997.5 279.2V288.6M998.5 280.2V281.1M999.5 272.6V273.7M1000.5 273.7V278.2M1001.5 267V268.2M1003.5 255.7V264.5M1003.5 265.5V267.8M1005.5 267.1V268.7M1006.5 268.3V271.8M1006.5 273.4V284.5M1007.5 271.8V277M1009.5 277.3V289.9M1010.5 275.6V277.3M1011.5 275.8V278.3M1012.5 278.7V282.6M1013.5 269.3V272.4M1013.5 274.7V277.7M1014.5 273.1V274.7M1014.5 281.2V284.9M1015.5 281.2V281.8M1016.5 279.3V283.4M1017.5 267.1V267.8M1018.5 267.8V272.2M1019.5 266.2V270.9M1021.5 272.7V273.8M1022.5 257.7V264.8M1022.5 268.1V271.1M1023.5 257.6V264.8M1024.5 267.4V268.8M1024.5 272.4V273M1026.5 275.4V276.7M1027.5 269.8V277.7M1027.5 279V284.5M1028.5 277.6V278.1M1030.5 271.5V272.2M1030.5 275.2V275.7M1031.5 266V272.2M1031.5 276.7V285.4M1033.5 264.4V273.3M1033.5 274.3V282.3M1034.5 273.5V274.5M1035.5 271.9V272.4M1035.5 273.4V275.3M1036.5 276.6V281.2M1037.5 269.1V276.6M1037.5 280.7V285.9M1038.5 275.7V280.7M1038.5 285.3V298.6M1039.5 275.2V279.3M1040.5 287.2V290M1041.5 284.9V287.2M1041.5 288.7V295.5M1042.5 283V286.4M1042.5 288.7V289.1M1044.5 278.7V279.7M1045.5 280.3V289M1047.5 278.6V281.6M1048.5 254.6V260.4M1048.5 281.6V285.9M1049.5 221.1V226M1051.5 154.7V173.4M1051.5 189.8V190.2M1052.5 175V176.5M1053.5 175V183.3M1054.5 162V169.3M1057.5 115.4V130.5M1057.5 139.5V142.2M1058.5 145.6V152M1059.5 143.6V145.6M1060.5 153.4V160M1062.5 148V150.1M1063.5 128.1V145.6M1064.5 130.4V147.5M1066.5 143.1V147.6M1067.5 138.1V148.2M1068.5 130.3V137.1M1071.5 141.3V142.5M1071.5 145.5V147.4M1073.5 129.6V137.2M1073.5 142.5V152.8M1074.5 136.4V142.5M1074.5 145.7V148.1M1077.5 140.8V145.6M1079.5 131.2V144.9M1080.5 126.6V128.6M1082.5 137.6V146.7M1083.5 147.3V150.9M1084.5 133.4V145.3M1086.5 135.8V139M1086.5 142.9V144.5M1087.5 134.9V152.6M1088.5 163.8V175.3M1090.5 133.2V145.9M1091.5 135.4V145.9M1091.5 154.3V162.1M1092.5 149.8V154.3M1092.5 164.1V165.2M1093.5 164.1V174.5M1095.5 149.7V156.4M1095.5 158.5V165.1M1096.5 145.4V152.4M1096.5 156.4V158.5M1098.5 146.7V151M1099.5 140.3V159.9M1100.5 157.5V162.3M1100.5 167.8V178.4M1101.5 155.4V156.6M1101.5 162.3V163.3M1102.5 156.6V164.2M1103.5 154.5V157.6M1104.5 151.3V152.2M1104.5 160V160.3M1107.5 180.8V190.4M1108.5 150.8V170.9M1108.5 175.5V187.3M1109.5 162.2V166.1M1110.5 157.2V160.7M1111.5 138.4V155.4M1113.5 158.8V165.3M1114.5 154.5V155.5M1115.5 155.5V174M1116.5 142.8V150.6M1116.5 153.8V159.5M1117.5 141V147.9M1119.5 149.9V155.8M1119.5 164.7V166.1M1120.5 142.5V163.6M1121.5 164V173.9M1122.5 153.2V161.3M1122.5 163V169.7M1123.5 146.4V159M1123.5 161.3V162M1124.5 163.4V181.1M1125.5 161.9V163.4M1126.5 163.5V168.1M1126.5 170.4V172.8M1127.5 153.9V164.5M1128.5 158.5V159.2M1128.5 164.5V173.7M1130.5 153.7V156.7M1132.5 157.6V165.7M1133.5 163.7V176.8M1134.5 163.7V165.6M1135.5 150.1V154M1136.5 141.4V143.5M1136.5 151.1V170.6M1140.5 151.2V154.9M1140.5 163.8V164.3M1141.5 181.7V182.3M1142.5 177V181.7M1142.5 199.7V201.8M1145.5 239.9V250M1146.5 235.7V239M1147.5 207.9V230M1148.5 231.5V234.4M1148.5 242V245.7M1152.5 229.9V234.3M1153.5 230.8V234.3M1153.5 239.7V243.6M1155.5 243.3V254.7M1158.5 228.6V231.2M1158.5 235.3V237.6M1159.5 240.2V243.3M1159.5 229.8V232.2M1159.5 240.2V244.6M1161.5 225.3V229.9M1164.5 197.2V204.2M1166.5 189.5V195.1M1166.5 197.3V199.1M1167.5 191.2V197.3M1168.5 197.2V199M1168.5 200.2V207.1M1169.5 200.2V207.2M1170.5 185.4V193.6M1170.5 196V197.8M1171.5 188.2V191.9M1173.5 194.4V199.3M1174.5 190.2V194.4M1174.5 201.9V204.8M1176.5 198.5V200.9M1177.5 196.4V200.9M1178.5 183.5V184.7M1179.5 187.4V188.1M1180.5 186.8V187.4M1180.5 188.4V191.7M1181.5 182.7V183.2M1181.5 187.8V191.8M1182.5 164.7V176.7M1182.5 183.2V189.4M1183.5 194.8V199.9M1183.5 175.3V188.3M1183.5 194.8V199.3M1184.5 175.5V182.1M1184.5 188.3V192.2M1185.5 179.9V182.1M1185.5 187.1V188.3M1187.5 191.2V191.9M1188.5 178.1V189.8M1188.5 193.3V194.8M1189.5 189.8V192M1190.5 180V183.7M1190.5 186.9V190.5M1191.5 187.6V193.8M1192.5 192V194.1M1193.5 185.8V187.8M1195.5 172.1V175.1M1195.5 181.2V183.5M1196.5 172.3V175.1M1197.5 179V181.9M1197.5 185.8V187.5M1198.5 183.5V185.8M1198.5 191.9V195.9M1199.5 183.8V185.8M1199.5 191.9V201.7M1201.5 156.4V162.4M1202.5 147.4V153M1202.5 162.4V174.4M1204.5 146.9V159.2M1207.5 146.2V155.5M1207.5 160.7V172.5M1208.5 147.6V167M1209.5 160.7V164M1209.5 167V176.9M1210.5 152.2V161.6M1211.5 150.2V159.2M1211.5 161.6V164.5M1212.5 152.3V159.2M1212.5 167.6V177.2M1213.5 165V167.6M1215.5 169.9V172.7M1218.5 165.1V181.9M1219.5 143.2V165.1M1219.5 175V181.2M1223.5 183.8V188.2M1223.5 189.2V196.2M1226.5 204.1V207.5M1229.5 189.6V193.9M1232.5 195.1V198M1233.5 198V204.9M1234.5 185.4V190.1M1234.5 191.1V191.8M1235.5 175.4V190.9M1235.5 199.4V203.9M1236.5 210.7V216.8M1239.5 264.4V272M1239.5 281.5V291.5M1240.5 281.5V290.3M1241.5 259.2V274.6M1243.5 285.4V289.6M1244.5 294.4V298M1244.5 305.1V306.6M1246.5 292.3V294.7M1247.5 280.7V283.4M1249.5 280V289.7M1250.5 289.7V295M1251.5 286.3V295M1252.5 285.3V287.2M1253.5 286V297.2M1257.5 313.5V319.3M1257.5 339.7V348.3M1260.5 353.8V354.2M1261.5 330.9V347.3M1262.5 335.4V345.1M1263.5 317.2V324M1263.5 335.4V336M1264.5 305.2V312M1264.5 324V336.6M1265.5 306.6V307.3M1266.5 293.5V302M1266.5 307.3V315.6M1267.5 298.8V302M1267.5 308.7V319.8M1268.5 298.9V308.7M1271.5 286.8V301.1M1272.5 299.8V309.7M1272.5 315.7V319.8M1273.5 304.3V309.9M1273.5 315.7V338.7M1274.5 306.8V309.9M1274.5 310.9V311.8M1275.5 311.3V316.6M1280.5 307.8V318.7M1284.5 319.4V324.6M1285.5 287.9V307.2M1285.5 314.3V317M1286.5 307.2V310.1M1288.5 297.8V308M1288.5 315.4V329.5M1289.5 307V311M1291.5 315V318.6M1292.5 311.8V314.1M1292.5 315.1V327M1294.5 296.7V308.6M1295.5 304.9V306.6M1297.5 309.4V315.4M1298.5 306.6V309.4M1298.5 319.8V323.2M1299.5 315.8V319.8M1299.5 323.9V324.4M1300.5 320.8V323.9M1300.5 328.2V333.3M1301.5 326.9V328.2M1301.5 331.8V333.8M1304.5 331.3V338.4M1305.5 332.3V342.6M1305.5 347.7V361.6M1309.5 294.7V300.4M1309.5 307V317.2M1313.5 288.4V292.4M1313.5 301.3V307.3M1314.5 268.2V285M1314.5 292.4V294.7M1315.5 279.2V281.3M1315.5 285V293.3M1316.5 274.4V281.3M1317.5 284.8V286.6M1317.5 293.2V296.8M1319.5 271.3V281.4M1319.5 287.3V294.5M1320.5 278.4V281.4M1320.5 288.6V296.4M1321.5 279.9V288.6M1322.5 285.8V286.1M1323.5 260.2V276.1M1325.5 258.2V262.4M1332.5 269.9V277.4M1333.5 271.2V275.2M1333.5 277.4V278.4M1337.5 290.6V291.4M1337.5 292.4V302M1339.5 282V285.6M1340.5 280.4V281.7M1340.5 285.6V286M1342.5 277.5V283M1343.5 280.2V287.2M1344.5 280.2V288.6M1344.5 289.6V299.5M1345.5 278.9V289.2M1345.5 290.2V302.7M1346.5 279.9V289.5M1347.5 287.3V290.2M1348.5 291.8V296.5M1349.5 313.7V316.2M1351.5 293V297.5M1351.5 305.9V306.6M1352.5 285.7V289.3M1353.5 291.9V297.8M1353.5 278.9V291.9M1353.5 299.5V303.4M1354.5 294.2V296.1M1356.5 287.2V289.5M1357.5 308.1V309.2M1358.5 294.3V306.6M1359.5 306.7V307.1M1360.5 297.7V300.4M1361.5 282.6V295.7M1362.5 288.1V295.7M1363.5 304.1V313.9M1367.5 300V303M1369.5 307.5V314.2M1369.5 318.7V331.9M1370.5 313.8V314.2M1370.5 325.7V326.1M1371.5 324.2V325.7M1372.5 330.1V332.1M1373.5 326.5V329.4M1375.5 316.6V327.7M1378.5 329.5V345.8M1379.5 340.4V343.8M1380.5 331.9V342.6M1380.5 343.8V352.2M1381.5 340.5V341.2M1381.5 342.6V343.8M1383.5 324.4V331.6M1383.5 337.2V341.3M1385.5 327.5V327.8M1386.5 325V326.9M1387.5 323.9V326.5M1389.5 293.9V296.8M1390.5 296.8V301.7M1391.5 272.1V283.8M1392.5 273.8V280.5M1393.5 290.7V291.4M1394.5 282.7V290.7M1395.5 295.6V302.7M1396.5 292V299.4M1397.5 277V285.1M1397.5 289.3V302.7M1399.5 273V278M1399.5 280.8V281.6M1402.5 284.7V288.4M1402.5 280.4V282.7M1402.5 284.7V285.7M1404.5 286.2V293.4M1405.5 281V286.2M1405.5 292.4V293.1M1406.5 292.4V293.7M1407.5 291.6V299.3M1408.5 291.8V301M1411.5 313.3V321.9M1412.5 315.6V321.3M1413.5 316.6V324.3M1416.5 291.7V305.1M1419.5 295.4V300.7M1420.5 283.2V292.7M1420.5 293.9V298.7M1421.5 296.7V297.4M1422.5 299.7V306.5M1423.5 296.1V297.2M1423.5 299.7V306.7M1424.5 287.5V296.4M1424.5 297.4V298.7M1425.5 291.2V293.8M1425.5 296.4V299.9M1426.5 279.1V281M1426.5 263.9V271.5M1426.5 281V287.7M1428.5 277.2V279.1M1429.5 275.2V277.9M1431.5 280.7V281.6M1431.5 287.2V288.7M1432.5 287.2V304.8M1433.5 281.7V290.9M1434.5 267.5V271.5M1435.5 268.9V271.5M1436.5 281.1V283.9M1437.5 281.1V291.6M1438.5 249.6V254.1M1440.5 235V243.8M1440.5 246.3V247M1441.5 240.2V243.8M1444.5 258.2V268.6M1447.5 251.7V252.1M1448.5 256.1V257.3M1449.5 250.9V258.4M1452.5 258.7V266M1453.5 257.2V263.5M1454.5 246.5V255.9M1455.5 250.8V255.9M1456.5 246.6V256.1M1456.5 257.1V260.6M1458.5 271.6V273.5M1462.5 232.6V234.8M1462.5 243.7V248.9M1463.5 232.1V234.8M1463.5 238V239M1464.5 231.9V238M1464.5 242.1V243.7M1465.5 238.2V242.1M1465.5 243.1V248.6M1466.5 235.7V238M1466.5 243.1V244.7M1468.5 217.6V228.7M1468.5 232.2V240.6M1469.5 224.4V228.7M1471.5 244.9V255.1M1472.5 242.3V246.2M1473.5 232.2V235.4M1473.5 238.6V239.8M1474.5 235.7V238.6M1474.5 246.4V257.4M1475.5 224.7V242M1477.5 209.2V229M1478.5 229.3V231M1479.5 224.9V228.3M1480.5 225V232.2M1480.5 235.7V242.8M1481.5 235.7V239.8M1482.5 211.9V216.3M1482.5 227.5V235.9M1483.5 210.6V211M1483.5 216.3V219.8M18.5 781V800M102.5 755V786M106.5 782V792M302.5 675V713M304.5 704V719.4M338.5 694V780M422.5 708V724.6M538.5 611V644M616.5 588V622M720.5 376V445M722.5 415V473M762.5 245V300M768.5 249V300M772.5 272V330M802.5 221V255M806.5 240V290M820.5 285V333M824.5 298V450M892.5 234V298M904.5 293V348M960.5 288V352M962.5 325V366M970.5 335V376M1056.5 117V152M1070.5 122V163M1106.5 163V203M1138.5 92V172M1144.5 172V269M1150.5 228V262M1206.5 141V178M1222.5 170V218M1228.5 184V229M1238.5 198V319M1256.5 283V345M1258.5 324V367M1278.5 309V344M1282.5 294V348M1302.5 324V372.5M1326.5 254V292M1328.5 276V305M1366.5 292V320M1376.5 335V365M1410.5 284V317M1414.5 308V329" stroke="#b0b0b0" stroke-width="1" fill="none"/>
<path d="M9.5 773.4V775.1M13.5 774.1V776M15.5 774V775M26.5 766.3V770M36.5 772.2V775.1M38.5 766.8V770.1M41.5 771.2V773.6M42.5 768.4V771.2M45.5 764.4V766.9M51.5 771.2V772.2M56.5 769.2V770.2M62.5 768.7V770.1M72.5 771.6V773.7M73.5 770.5V771.6M74.5 768.6V770.5M83.5 762.7V768M84.5 757.4V762.7M87.5 757.2V758.3M89.5 753.7V755.5M93.5 758.4V759.5M94.5 756.5V758.4M108.5 783.9V785.9M111.5 780.2V783.4M115.5 776.9V779.2M116.5 774.4V776.9M117.5 773.7V774.7M119.5 773.8V774.8M120.5 773.3V774.3M121.5 772.8V773.8M124.5 761.9V767.3M126.5 747.7V752.8M134.5 747.6V749.3M135.5 745.2V747.6M136.5 742.5V745.2M139.5 748.2V750.3M140.5 745V746.9M144.5 746.2V747.6M146.5 743.1V744.5M148.5 747.8V749.9M163.5 740.7V741.7M165.5 739.1V740.4M166.5 737.9V739.1M171.5 735.1V738.5M172.5 732.5V735.1M176.5 733.3V735.4M182.5 744.9V746.2M183.5 743.9V744.9M186.5 745.5V749.4M192.5 737.9V739.2M197.5 734V735.1M213.5 732.4V733.4M215.5 728.6V729.8M222.5 735.7V736.7M233.5 732.2V733.2M237.5 741.4V742.6M238.5 740.6V741.6M248.5 736.2V737.2M249.5 735.7V736.7M252.5 739.5V743M257.5 737.6V739.8M259.5 733.6V735.4M266.5 721V723.7M267.5 720.7V721.7M273.5 701.7V708M274.5 696.8V699M276.5 685.5V687.1M280.5 686.2V687.7M282.5 684.5V685.5M286.5 683V684.4M287.5 682V683M298.5 678.3V682M311.5 705.9V709.1M322.5 714.6V715.6M329.5 710.5V711.5M331.5 705V707.9M335.5 699.6V700.9M343.5 716.9V717.9M344.5 716.7V717.7M348.5 722.7V723.8M351.5 723.8V724.8M352.5 723.3V724.3M354.5 723.1V724.1M359.5 720.9V723.2M360.5 720.4V721.4M362.5 719.9V720.9M364.5 719.5V720.5M369.5 723.6V724.6M373.5 725.1V726.1M374.5 722.8V725.1M379.5 720.3V721.5M386.5 714.7V716.1M392.5 709.9V712M397.5 705.6V707.4M399.5 701.3V703.4M409.5 706.7V708.2M415.5 705.5V708.1M427.5 712.9V715.5M429.5 708.7V710.9M439.5 708.3V710.1M442.5 705V706M443.5 701V705M448.5 690.2V691.8M450.5 686.9V688.5M455.5 685.3V686.6M456.5 684.4V685.4M460.5 685.5V686.7M462.5 682.5V684M466.5 686.6V687.9M472.5 686.7V687.8M473.5 685.9V686.9M480.5 679.2V681.6M485.5 673.6V676.1M486.5 670.7V673.6M487.5 667.8V670.7M501.5 664.5V665.5M502.5 661.6V664.5M505.5 646.8V650.3M506.5 643.6V646.8M507.5 643.1V644.1M509.5 625.4V627.7M510.5 605.6V615.1M516.5 606.4V607.4M517.5 605.8V606.8M522.5 610V613.3M523.5 605.7V610M525.5 603.5V611.5M526.5 595.9V603.5M527.5 592.9V595.9M534.5 612.1V613.2M536.5 610.4V611.6M542.5 627V630.3M546.5 602.2V612.5M551.5 606.1V607.5M552.5 602.8V606.1M576.5 621.2V622.2M582.5 617.7V618.7M583.5 617V618M584.5 616.5V617.5M596.5 598.8V606.3M597.5 586.1V598.8M602.5 577.9V579.5M603.5 576.4V577.9M604.5 575.1V576.4M613.5 584V585M624.5 604.9V609.6M625.5 596.1V604.9M631.5 595.9V598.3M633.5 591.7V594.5M637.5 588V589M638.5 581.9V588M640.5 569.9V575M641.5 568.4V569.9M643.5 572.7V576.1M648.5 576V577M659.5 579.5V585.7M661.5 570.7V574.8M664.5 568V571.9M665.5 564.6V568M667.5 557V561.2M669.5 555.3V567.1M670.5 544.4V555.3M676.5 551.4V552.4M677.5 545.5V551.4M679.5 538.1V539.5M690.5 513V521.1M693.5 489.5V496.7M702.5 465.2V467.4M704.5 453.3V462.5M711.5 425.5V427.4M712.5 419.5V425.5M713.5 406V419.5M727.5 444.2V451.5M729.5 431.3V437.9M742.5 435.9V438.9M743.5 430.4V435.9M747.5 347.8V358.2M749.5 321.9V327.2M755.5 309.8V311.1M758.5 299.1V307.5M759.5 292.6V299.1M777.5 285.9V301.8M782.5 285.6V290.7M783.5 283.7V285.6M786.5 270.2V278.3M792.5 280.5V281.6M795.5 270.2V274M795.5 256.8V270.2M797.5 248.3V252.8M800.5 246.9V257.2M813.5 285.2V291.6M822.5 291.7V302.9M827.5 396.6V402.8M831.5 409.4V410.4M838.5 406.6V411.9M842.5 425.7V426.7M845.5 393.1V397M847.5 386.2V390.1M850.5 380.6V382.5M852.5 375.9V378.4M860.5 396.6V401.2M861.5 392.5V396.6M867.5 403V405M870.5 356.7V363.1M874.5 283.8V287.1M877.5 290V297.1M879.5 277.3V283.2M880.5 270.3V277.3M885.5 288.3V293.4M898.5 283V284M902.5 303.9V304.9M907.5 315.1V327.8M912.5 307.9V319.7M914.5 292.4V295.9M931.5 299.1V302.6M932.5 296.9V299.1M933.5 291.2V296.9M934.5 284.2V291.2M943.5 292.4V295.1M944.5 289.7V292.4M949.5 294.8V297.8M953.5 288.1V294.6M964.5 345.3V356.8M968.5 346.8V348.6M969.5 345.4V346.8M972.5 350.9V351.9M973.5 342.7V350.9M974.5 333.9V342.7M980.5 316V317.9M987.5 305.4V306.4M990.5 298.1V303.1M993.5 281.2V286.7M994.5 276.1V281.2M999.5 273.7V279.7M1003.5 264.5V265.5M1012.5 275.9V278.7M1013.5 272.4V275.9M1017.5 267.8V273.4M1018.5 260.9V267.8M1021.5 268.1V272.7M1022.5 264.8V268.1M1029.5 275.2V278.1M1032.5 273.3V276.7M1034.5 272.5V273.5M1038.5 281.8V285.3M1045.5 279.3V280.3M1049.5 240.3V249.4M1050.5 210.5V213.6M1051.5 173.4V189.8M1060.5 152.4V153.4M1067.5 137.1V138.1M1072.5 137.2V142.5M1079.5 128.6V131.2M1084.5 145.3V146.3M1090.5 145.9V150.6M1093.5 162.1V164.1M1096.5 152.4V156.4M1102.5 154.5V156.6M1109.5 166.1V170.9M1110.5 155.4V160.7M1114.5 155.5V158.8M1115.5 153.8V155.5M1116.5 150.6V153.8M1117.5 147.9V150.6M1135.5 143.5V150.1M1146.5 230V235.7M1161.5 216.6V225.3M1162.5 214.1V216.6M1164.5 204.2V213M1169.5 196V200.2M1172.5 189.3V191.9M1175.5 198.5V201.9M1177.5 192.5V196.4M1178.5 184.7V192.5M1181.5 183.2V187.8M1183.5 188.3V194.8M1190.5 183.7V186.9M1199.5 185.8V191.9M1200.5 173.3V185.8M1209.5 164V167M1210.5 161.6V164M1211.5 159.2V161.6M1224.5 188.1V189.1M1226.5 207.5V211M1229.5 193.9V199.7M1246.5 283.4V292.3M1249.5 289.7V295.1M1261.5 329V330.9M1266.5 302V307.3M1270.5 301.1V309.4M1280.5 318.7V329.2M1294.5 308.6V312.6M1295.5 306.6V308.6M1305.5 343.1V347.7M1306.5 330.5V343.1M1309.5 300.4V307M1314.5 285V292.4M1319.5 281.4V287.3M1323.5 276.1V286.1M1324.5 265V276.1M1325.5 262.4V265M1329.5 292.9V293.9M1329.5 283.8V292.9M1332.5 277.4V281M1338.5 289.6V292.2M1350.5 305.9V313.7M1352.5 289.3V297.5M1360.5 300.4V305.7M1374.5 328.1V329.4M1375.5 327.7V328.7M1378.5 345.8V347.3M1383.5 331.6V337.2M1389.5 296.8V306M1390.5 287.5V296.8M1391.5 283.8V287.5M1396.5 289.3V292M1397.5 285.1V289.3M1406.5 290.8V292.4M1424.5 296.4V297.4M1433.5 276V281.7M1434.5 271.5V276M1446.5 252.1V255.4M1450.5 255.8V258.4M1459.5 261.8V271.6M1461.5 243.7V250.7M1462.5 234.8V243.7M1477.5 229V237M1478.5 228.3V229.3M1481.5 227.5V235.7M1482.5 216.3V227.5M1484.5 209.7V211" stroke="#a8a8a8" stroke-width="1" fill="none"/>
<path d="M7.5 776.5V777.5M10.5 773.4V774.8M11.5 774.8V775.8M12.5 775V776M14.5 774.1V775.1M16.5 774V776.7M21.5 777.1V778.6M22.5 778.6V779.6M27.5 766.3V767.5M28.5 767.5V769.3M29.5 769.3V771.1M30.5 771.1V772.1M31.5 771.4V772.4M32.5 771.6V772.6M34.5 771.4V773.5M35.5 773.5V775.1M39.5 766.8V770.7M40.5 770.7V773.6M43.5 764.8V765.8M44.5 765.7V766.9M47.5 763.5V765.8M48.5 765.8V768.6M49.5 768.6V770.9M50.5 770.9V772M54.5 768.2V769.2M55.5 768.4V769.7M59.5 767.6V769.6M60.5 769.6V772.1M64.5 767.2V771.5M65.5 771.5V774.5M66.5 774.5V775.5M67.5 774.7V775.7M68.5 774.7V775.7M68.5 775.1V776.1M69.5 775.9V777.2M75.5 768.6V769.6M76.5 769.6V770.6M77.5 770.1V771.2M82.5 764.6V768M86.5 753.5V758.3M90.5 753.7V755.7M91.5 755.7V757.9M92.5 757.9V760.4M96.5 755.4V757.6M97.5 757.6V759.4M104.5 777.2V784.9M105.5 784.9V786.7M110.5 781.6V783.4M113.5 777.9V778.9M114.5 778.6V779.6M118.5 773.7V774.7M128.5 746.4V749.7M131.5 745.4V746.4M132.5 746.1V747.9M133.5 747.9V749.3M137.5 742.5V747.4M138.5 747.4V750.3M141.5 745V747M142.5 747V748.7M147.5 743.1V749.9M151.5 743.3V744.3M152.5 743.5V744.5M156.5 738.4V739.6M157.5 739.6V741.3M161.5 736.6V739.2M162.5 739.2V740.9M167.5 737.9V739.2M168.5 739.2V740.2M169.5 740.1V741.2M173.5 732.5V733.8M174.5 733.8V734.8M175.5 734.2V735.4M177.5 733.3V734.3M178.5 733.4V737.8M179.5 737.8V742.9M180.5 742.9V744.4M181.5 744.4V746.2M184.5 743.9V747.9M185.5 747.9V749.4M188.5 742.8V744.5M189.5 744.5V745.5M193.5 737.9V739.2M198.5 734V735.2M199.5 735.2V736.6M206.5 728.8V729.8M210.5 724.9V725.9M211.5 725V729.2M212.5 729.2V733M217.5 726.6V729.6M218.5 729.6V732M219.5 732V735M220.5 735V736M221.5 735.2V736.6M224.5 732.8V733.8M225.5 733.6V734.9M229.5 728.2V731.4M230.5 731.4V735M234.5 732.2V736.4M235.5 736.4V742.7M236.5 742.7V743.7M240.5 740.2V742.4M241.5 742.4V743.4M246.5 733.8V734.8M247.5 734.6V737.1M250.5 735.7V740.1M251.5 740.1V743M254.5 735.9V737.4M255.5 737.4V738.5M256.5 738.5V739.8M262.5 729V731.6M262.5 731.6V733.6M268.5 720.7V721.7M269.5 720.9V721.9M277.5 685.5V686.5M278.5 686.2V687.2M279.5 686.9V687.9M284.5 683.3V684.6M285.5 684.6V685.7M289.5 680.7V682.4M290.5 682.4V686.5M291.5 686.5V687.5M293.5 686.7V687.7M294.5 687.4V688.4M295.5 688.4V689.4M299.5 678.3V680.9M300.5 680.9V684.7M303.5 699.1V707.1M306.5 710.6V715.4M310.5 706.5V708.1M310.5 708.1V709.1M313.5 703.3V705.4M314.5 705.4V708.6M315.5 708.6V711.7M320.5 709.5V712M321.5 712V714.7M323.5 714.6V715.6M324.5 714.8V715.8M327.5 710.8V711.8M334.5 698.9V704M339.5 719.4V720.9M340.5 720.9V721.9M345.5 716.7V720.4M346.5 720.4V724.2M350.5 721.9V724.3M353.5 723.3V724.3M355.5 723.1V725.4M356.5 725.4V727.6M365.5 719.5V722.9M366.5 722.9V725.5M371.5 722.9V724.5M372.5 724.5V726.1M376.5 721V722M377.5 721V722M378.5 721.4V722.4M383.5 716.1V717.1M384.5 716.8V717.8M388.5 713.2V714.2M389.5 713.7V714.7M396.5 707.2V708.2M401.5 700.2V702.3M402.5 702.3V705.3M403.5 705.3V706.3M404.5 706.1V707.1M405.5 707.1V708.1M407.5 706.1V707.5M408.5 707.5V708.5M414.5 702V708.1M418.5 701.2V706.1M419.5 706.1V711.8M420.5 711.8V714.7M424.5 716V717M431.5 706.8V707.8M431.5 707.6V708.9M432.5 708.9V710.5M436.5 705.4V709.1M437.5 709.1V711.5M441.5 705V706M451.5 686.9V687.9M452.5 686.9V687.9M453.5 687.5V688.5M458.5 682.6V684.4M459.5 684.4V686.7M463.5 682.5V684.7M464.5 684.7V686.6M465.5 686.6V687.9M468.5 685.1V686.3M469.5 686.3V687.3M470.5 687.3V688.6M474.5 685.9V688.6M479.5 681.2V683.6M482.5 676.2V677.2M489.5 665V667M494.5 659.2V660.5M495.5 660.5V663.4M496.5 663.4V665.1M500.5 664.2V665.2M512.5 600.1V602.8M513.5 602.8V607.1M514.5 607.1V609.7M518.5 605.8V613.1M519.5 613.1V621.1M524.5 605.7V611.5M528.5 592.9V601.7M528.5 601.7V602.7M529.5 601.8V602.8M531.5 602.1V605.2M532.5 605.2V609.7M533.5 609.7V613.2M543.5 627V630.3M548.5 599.9V603.8M549.5 603.8V609M553.5 602.8V608.9M553.5 608.9V613.8M554.5 613.8V619.6M560.5 608.2V612.6M561.5 612.6V615.4M562.5 615.4V619.5M565.5 613.2V616.4M566.5 616.4V617.6M567.5 617.6V618.6M570.5 609V610.6M571.5 610.6V616.7M572.5 616.7V622.5M573.5 622.5V626.9M577.5 621.2V626.7M577.5 626.7V630.9M587.5 606V609.6M588.5 609.6V612.7M591.5 601V607.7M592.5 607.7V611.7M595.5 605.1V606.3M600.5 574.1V577.3M601.5 577.3V580.1M605.5 575.1V577.5M606.5 577.5V579.9M610.5 578.2V579.2M612.5 577.5V584M615.5 583.9V586.3M618.5 608.4V613.3M621.5 603.4V605.4M622.5 605.4V607.1M623.5 607.1V609.6M625.5 596.1V597.7M626.5 597.7V600.7M629.5 594V596.5M630.5 596.5V598.3M635.5 588.5V589.5M636.5 588.8V589.8M642.5 568.4V576.1M646.5 565.2V571.2M647.5 571.2V576.2M649.5 576V577M650.5 576.1V578M650.5 578V579M651.5 578.9V580.9M652.5 580.9V586.5M653.5 586.5V590.6M654.5 590.6V591.6M658.5 579.5V585.7M662.5 570.7V571.7M663.5 571.5V572.5M668.5 557V567.1M671.5 544.4V551M672.5 551V552M673.5 551.1V552.1M674.5 551.2V552.2M675.5 551.7V552.7M681.5 537.9V544.9M682.5 544.9V549.5M685.5 538.5V542M694.5 489.5V490.5M695.5 490.5V492M698.5 482.5V483.5M699.5 483.5V485.1M708.5 419.2V420.6M709.5 420.6V429.2M715.5 394V395M716.5 394.6V397.3M718.5 388V391.3M723.5 443.8V458.7M725.5 457.5V458.5M730.5 431.3V434.1M731.5 434.1V448.4M732.5 448.4V453M733.5 453V454M739.5 424V429.7M740.5 429.7V435.5M741.5 435.5V438.9M747.5 325.3V333.5M753.5 285V296.3M754.5 296.3V311.1M757.5 299.5V307.5M764.5 279.3V286.7M767.5 257.5V292.6M770.5 278.8V280.5M773.5 298.4V314.8M774.5 314.8V333M779.5 275.3V282.5M780.5 282.5V288M781.5 288V290.7M784.5 283.7V284.7M787.5 270.2V276.5M788.5 276.5V278.1M789.5 278.1V283.1M798.5 248.3V269.1M804.5 265.7V268.3M808.5 266.8V274.4M809.5 274.4V285.1M810.5 285.1V288.5M811.5 288.5V290.5M812.5 290.5V291.6M814.5 285.2V295.1M815.5 295.1V299.5M818.5 285.7V287.6M819.5 287.6V297.4M819.5 297.4V308M823.5 291.7V300.3M826.5 390.9V402.8M828.5 396.6V402.6M829.5 402.6V409.6M830.5 409.6V410.6M835.5 401.7V408.1M836.5 408.1V417.8M839.5 406.6V414.3M840.5 414.3V419.8M841.5 419.8V425.9M853.5 375.9V395.8M857.5 387.5V394.4M858.5 394.4V398M859.5 398V401.2M864.5 388.9V393.6M865.5 393.6V399.3M866.5 399.3V405M875.5 283.8V293.4M876.5 293.4V297.1M881.5 270.3V274.8M882.5 274.8V285.7M883.5 285.7V296.5M888.5 274V275.9M889.5 275.9V279.3M890.5 279.3V282.8M894.5 276.9V281M895.5 281V285M896.5 285V286M899.5 283V288.6M900.5 288.6V295.2M901.5 295.2V303.9M903.5 303.9V306.5M906.5 304.4V327.8M909.5 306.8V321.4M910.5 321.4V322.4M916.5 279.4V280.4M916.5 280.3V281.3M917.5 281.1V292.4M918.5 292.4V302.6M922.5 291.1V292.1M923.5 291.6V292.6M924.5 292.4V293.4M929.5 282.7V295.9M930.5 295.9V302.6M936.5 282.5V283.5M938.5 277.4V278.4M939.5 278.2V279.4M940.5 279.4V280.8M941.5 280.8V289.1M941.5 289.1V298.5M945.5 289.7V296M946.5 296V304.6M950.5 294.8V304.7M955.5 277.9V281.1M956.5 281.1V287.3M957.5 287.3V296.6M958.5 296.6V298.7M963.5 353.5V356.8M965.5 335.8V344.2M966.5 344.2V352.9M977.5 317.6V319.2M978.5 319.2V321.8M981.5 316V317M985.5 301V305.7M986.5 305.7V306.7M996.5 271.8V275.4M997.5 275.4V279.2M998.5 279.2V280.2M1002.5 265V266M1004.5 264.5V268.7M1005.5 268.7V273.4M1008.5 270.8V272.1M1009.5 272.1V277.3M1010.5 277.3V278.3M1011.5 278.3V279.3M1013.5 272.4V274.7M1014.5 274.7V281.2M1019.5 260.9V266.2M1020.5 266.2V272.7M1023.5 264.8V268.8M1024.5 268.8V272.4M1025.5 272.4V276.7M1026.5 276.7V277.7M1027.5 277.7V279M1031.5 272.2V276.7M1033.5 273.3V274.3M1036.5 272.4V276.6M1037.5 276.6V280.7M1038.5 280.7V285.3M1040.5 279.3V287.2M1041.5 287.2V288.7M1046.5 279.3V282.5M1052.5 173.4V175M1057.5 130.5V139.5M1058.5 139.5V145.6M1059.5 145.6V153M1063.5 145.6V147.5M1064.5 147.5V148.6M1068.5 137.1V138.1M1073.5 137.2V142.5M1074.5 142.5V145.7M1075.5 145.7V148M1080.5 128.6V140.9M1081.5 140.9V149.8M1086.5 139V152.6M1087.5 152.6V163.8M1091.5 145.9V154.3M1092.5 154.3V164.1M1098.5 151V159.9M1099.5 159.9V167.8M1104.5 152.2V160M1111.5 155.4V156.8M1112.5 156.8V157.8M1113.5 157.3V158.8M1118.5 147.9V155.8M1119.5 155.8V164.7M1124.5 159V163.4M1125.5 163.4V168.1M1126.5 168.1V170.4M1132.5 144.5V157.6M1133.5 157.6V163.7M1136.5 143.5V151.1M1140.5 154.9V163.8M1141.5 163.8V181.7M1142.5 181.7V199.7M1147.5 230V234.4M1148.5 234.4V242M1153.5 234.3V239.7M1154.5 239.7V243.3M1157.5 226.3V231.2M1158.5 231.2V235.3M1159.5 235.3V240.2M1166.5 195.1V197.3M1167.5 197.3V199M1168.5 199V200.2M1173.5 189.3V194.4M1174.5 194.4V201.9M1179.5 184.7V187.4M1180.5 187.4V188.4M1183.5 176.7V194.8M1185.5 182.1V187.1M1186.5 187.1V191.9M1187.5 191.9V193.3M1191.5 183.7V187.6M1192.5 187.6V192M1196.5 175.1V181.9M1197.5 181.9V185.8M1198.5 185.8V191.9M1203.5 153V165.7M1207.5 155.5V160.7M1208.5 160.7V168.5M1212.5 159.2V167.6M1213.5 167.6V175.7M1218.5 156.8V165.1M1219.5 165.1V175M1220.5 175V185M1223.5 188.2V189.2M1225.5 188.1V211M1230.5 193.9V202M1231.5 202V209.6M1234.5 190.1V191.1M1235.5 190.9V199.4M1236.5 199.4V210.7M1237.5 210.7V231.6M1239.5 272V281.5M1242.5 274.6V289.6M1243.5 289.6V305.1M1247.5 283.4V286.8M1248.5 286.8V295.1M1253.5 282.7V286M1254.5 286V289.7M1257.5 319.3V339.7M1262.5 329V335.4M1267.5 302V308.7M1268.5 308.7V317.5M1271.5 301.1V309.7M1272.5 309.7V315.7M1274.5 309.9V310.9M1275.5 310.3V311.3M1276.5 311.2V313.7M1287.5 300.2V308M1288.5 308V315.4M1291.5 306.9V315M1297.5 303V309.4M1298.5 309.4V319.8M1299.5 319.8V323.9M1300.5 323.9V328.2M1301.5 328.2V331.8M1304.5 338.4V342.6M1305.5 342.6V347.7M1310.5 300.4V306.7M1311.5 306.7V311.8M1316.5 281.3V286.6M1317.5 286.6V293.2M1320.5 281.4V288.6M1321.5 288.6V294.2M1330.5 283.8V289.8M1334.5 275.2V279.8M1335.5 279.8V284.9M1336.5 284.9V291.4M1337.5 291.4V292.4M1341.5 281.7V283M1342.5 283V287.2M1343.5 287.2V288.6M1344.5 288.6V289.6M1345.5 289.2V290.2M1346.5 289.5V290.5M1347.5 290.2V296.5M1348.5 296.5V306.8M1349.5 306.8V313.7M1353.5 289.3V291.9M1353.5 291.9V299.5M1356.5 289.5V299.1M1357.5 299.1V308.1M1362.5 295.7V297.6M1363.5 297.6V304.1M1367.5 303V319.7M1370.5 314.2V325.7M1371.5 325.7V334.3M1393.5 280.5V290.7M1394.5 290.7V295.6M1400.5 278V279M1401.5 278.9V279.9M1402.5 279.8V284.7M1404.5 281.4V286.2M1405.5 286.2V292.4M1408.5 290.6V291.8M1411.5 304.5V313.3M1412.5 313.3V315.6M1413.5 315.6V316.6M1420.5 292.7V293.9M1421.5 293.9V296.7M1422.5 296.7V299.7M1427.5 271.5V279.1M1428.5 279.1V280.1M1430.5 277.9V281.6M1431.5 281.6V287.2M1435.5 271.5V277.1M1436.5 277.1V281.1M1441.5 243.8V251.5M1442.5 251.5V259M1447.5 252.1V257.3M1448.5 257.3V263.4M1451.5 251.7V258.7M1455.5 255.9V256.9M1456.5 256.1V257.1M1457.5 256.2V262.4M1458.5 262.4V271.6M1463.5 234.8V238M1464.5 238V242.1M1465.5 242.1V243.1M1469.5 228.7V237.4M1470.5 237.4V244.9M1473.5 235.4V238.6M1474.5 238.6V243M1474.5 243V246.4M1479.5 228.3V232.2M1480.5 232.2V235.7M18.5 783V792M102.5 757V784M106.5 783V789M302.5 680V711M304.5 706V713M338.5 696V753M422.5 712V722M538.5 613V642M616.5 590V618M720.5 386V440M722.5 420V466M762.5 247V294M768.5 252V294M772.5 276V325M802.5 232V250M806.5 245V287M820.5 289V329M824.5 302V415M892.5 244V293M904.5 297V333M960.5 293V346M962.5 330V350M970.5 340V356M1056.5 126V147M1070.5 136V158M1106.5 167V194M1138.5 115V167M1144.5 176V245M1150.5 233V256M1206.5 144V165M1222.5 174V200M1228.5 188V214M1238.5 203V289M1256.5 286V340M1258.5 328V364M1278.5 313V340M1282.5 300V320M1302.5 328V357M1326.5 265V289M1328.5 280V301M1366.5 295V317M1376.5 339V353M1410.5 287.5V313.4M1414.5 312V320" stroke="#000" stroke-width="1.3" fill="none"/>
<path d="M14.1 757h4.6v5.1h2.1l-4.4 5.4l-4.4 -5.4h2.1z" fill="#c242ee"/>
<rect x="12" y="768" width="8.8" height="1.6" fill="#c242ee"/>
<path d="M22.8 778.2v9l-5 -4.5z" fill="#c242ee"/>
<path d="M181.1 727.3h4.6v5.1h2.1l-4.4 5.4l-4.4 -5.4h2.1z" fill="#c242ee"/>
<rect x="179" y="738.3" width="8.8" height="1.6" fill="#c242ee"/>
<path d="M189.2 744.2v9l-5 -4.5z" fill="#c242ee"/>
<path d="M262.1 713h4.6v5.1h2.1l-4.4 5.4l-4.4 -5.4h2.1z" fill="#c242ee"/>
<rect x="260" y="724" width="8.8" height="1.6" fill="#c242ee"/>
<path d="M270 726.7v9l-5 -4.5z" fill="#c242ee"/>
<path d="M302.6 681.9h4.6v5.1h2.1l-4.4 5.4l-4.4 -5.4h2.1z" fill="#c242ee"/>
<rect x="300.5" y="692.9" width="8.8" height="1.6" fill="#c242ee"/>
<path d="M310.1 696.5v9l-5 -4.5z" fill="#c242ee"/>
<path d="M617.3 579.4h4.6v5.1h2.1l-4.4 5.4l-4.4 -5.4h2.1z" fill="#c242ee"/>
<rect x="615.2" y="590.4" width="8.8" height="1.6" fill="#c242ee"/>
<path d="M625.5 599.3v9l-5 -4.5z" fill="#c242ee"/>
<path d="M682.5 527.5h4.6v5.1h2.1l-4.4 5.4l-4.4 -5.4h2.1z" fill="#c242ee"/>
<rect x="680.4" y="538.5" width="8.8" height="1.6" fill="#c242ee"/>
<path d="M690.8 549.2v9l-5 -4.5z" fill="#c242ee"/>
<path d="M826.5 343.1h4.6v5.1h2.1l-4.4 5.4l-4.4 -5.4h2.1z" fill="#c242ee"/>
<rect x="824.4" y="354.1" width="8.8" height="1.6" fill="#c242ee"/>
<path d="M834.1 355.9v9l-5 -4.5z" fill="#c242ee"/>
<path d="M1106.2 168.3h4.6v5.1h2.1l-4.4 5.4l-4.4 -5.4h2.1z" fill="#c242ee"/>
<rect x="1104.1" y="179.3" width="8.8" height="1.6" fill="#c242ee"/>
<path d="M1114 189.8v9l-5 -4.5z" fill="#c242ee"/>
<path d="M1151 222.5h4.6v5.1h2.1l-4.4 5.4l-4.4 -5.4h2.1z" fill="#c242ee"/>
<rect x="1148.9" y="233.5" width="8.8" height="1.6" fill="#c242ee"/>
<path d="M1159 250.1v9l-5 -4.5z" fill="#c242ee"/>
<path d="M128.2 761l4.4 5.3h-2.1v5.5h-4.6v-5.5h-2.1z" fill="#1e90ff"/>
<path d="M122.6 745.6v9l5.2 -4.5z" fill="#1e90ff"/>
<path d="M247.4 746.4l4.4 5.3h-2.1v5.5h-4.6v-5.5h-2.1z" fill="#1e90ff"/>
<path d="M241.4 734.5v9l5.2 -4.5z" fill="#1e90ff"/>
<path d="M266.2 730.5l4.4 5.3h-2.1v5.5h-4.6v-5.5h-2.1z" fill="#1e90ff"/>
<path d="M344.6 731.6l4.4 5.3h-2.1v5.5h-4.6v-5.5h-2.1z" fill="#1e90ff"/>
<path d="M338 712.4v9l5.2 -4.5z" fill="#1e90ff"/>
<path d="M643.4 580.6l4.4 5.3h-2.1v5.5h-4.6v-5.5h-2.1z" fill="#1e90ff"/>
<path d="M638.3 565.7v9l5.2 -4.5z" fill="#1e90ff"/>
<path d="M685.4 556.2l4.4 5.3h-2.1v5.5h-4.6v-5.5h-2.1z" fill="#1e90ff"/>
<path d="M680.3 544.5v9l5.2 -4.5z" fill="#1e90ff"/>
<path d="M1052.5 200.2l4.4 5.3h-2.1v5.5h-4.6v-5.5h-2.1z" fill="#1e90ff"/>
<path d="M1047 179v9l5.2 -4.5z" fill="#1e90ff"/>
<path d="M1143.8 189.3l4.4 5.3h-2.1v5.5h-4.6v-5.5h-2.1z" fill="#1e90ff"/>
<path d="M1137.8 166.6v9l5.2 -4.5z" fill="#1e90ff"/>
<path d="M1428.4 293l4.4 5.3h-2.1v5.5h-4.6v-5.5h-2.1z" fill="#1e90ff"/>
<path d="M1423.4 272.6v9l5.2 -4.5z" fill="#1e90ff"/>
</g>
<rect x="6.5" y="43.5" width="1532.0" height="825.0" fill="none" stroke="#7a7a7a" stroke-width="1"/>
<path d="M1487.5 43.5V868.5M6.5 841.5H1538.5" stroke="#7a7a7a" stroke-width="1" fill="none"/>
<text x="1496" y="827.9" font-size="11.3" fill="#111" stroke="#111" stroke-width="0.2" textLength="34" lengthAdjust="spacingAndGlyphs">4800.0</text>
<text x="1496" y="793.9" font-size="11.3" fill="#111" stroke="#111" stroke-width="0.2" textLength="34" lengthAdjust="spacingAndGlyphs">5000.0</text>
<text x="1496" y="759.9" font-size="11.3" fill="#111" stroke="#111" stroke-width="0.2" textLength="34" lengthAdjust="spacingAndGlyphs">5200.0</text>
<text x="1496" y="725.9" font-size="11.3" fill="#111" stroke="#111" stroke-width="0.2" textLength="34" lengthAdjust="spacingAndGlyphs">5400.0</text>
<text x="1496" y="691.9" font-size="11.3" fill="#111" stroke="#111" stroke-width="0.2" textLength="34" lengthAdjust="spacingAndGlyphs">5600.0</text>
<text x="1496" y="657.9" font-size="11.3" fill="#111" stroke="#111" stroke-width="0.2" textLength="34" lengthAdjust="spacingAndGlyphs">5800.0</text>
<text x="1496" y="623.9" font-size="11.3" fill="#111" stroke="#111" stroke-width="0.2" textLength="34" lengthAdjust="spacingAndGlyphs">6000.0</text>
<text x="1496" y="589.9" font-size="11.3" fill="#111" stroke="#111" stroke-width="0.2" textLength="34" lengthAdjust="spacingAndGlyphs">6200.0</text>
<text x="1496" y="555.9" font-size="11.3" fill="#111" stroke="#111" stroke-width="0.2" textLength="34" lengthAdjust="spacingAndGlyphs">6400.0</text>
<text x="1496" y="521.9" font-size="11.3" fill="#111" stroke="#111" stroke-width="0.2" textLength="34" lengthAdjust="spacingAndGlyphs">6600.0</text>
<text x="1496" y="487.9" font-size="11.3" fill="#111" stroke="#111" stroke-width="0.2" textLength="34" lengthAdjust="spacingAndGlyphs">6800.0</text>
<text x="1496" y="453.9" font-size="11.3" fill="#111" stroke="#111" stroke-width="0.2" textLength="34" lengthAdjust="spacingAndGlyphs">7000.0</text>
<text x="1496" y="419.9" font-size="11.3" fill="#111" stroke="#111" stroke-width="0.2" textLength="34" lengthAdjust="spacingAndGlyphs">7200.0</text>
<text x="1496" y="385.9" font-size="11.3" fill="#111" stroke="#111" stroke-width="0.2" textLength="34" lengthAdjust="spacingAndGlyphs">7400.0</text>
<text x="1496" y="352.9" font-size="11.3" fill="#111" stroke="#111" stroke-width="0.2" textLength="34" lengthAdjust="spacingAndGlyphs">7600.0</text>
<text x="1496" y="318.9" font-size="11.3" fill="#111" stroke="#111" stroke-width="0.2" textLength="34" lengthAdjust="spacingAndGlyphs">7800.0</text>
<text x="1496" y="284.9" font-size="11.3" fill="#111" stroke="#111" stroke-width="0.2" textLength="34" lengthAdjust="spacingAndGlyphs">8000.0</text>
<text x="1496" y="250.9" font-size="11.3" fill="#111" stroke="#111" stroke-width="0.2" textLength="34" lengthAdjust="spacingAndGlyphs">8200.0</text>
<text x="1496" y="216.9" font-size="11.3" fill="#111" stroke="#111" stroke-width="0.2" textLength="34" lengthAdjust="spacingAndGlyphs">8400.0</text>
<text x="1496" y="182.9" font-size="11.3" fill="#111" stroke="#111" stroke-width="0.2" textLength="34" lengthAdjust="spacingAndGlyphs">8600.0</text>
<text x="1496" y="148.9" font-size="11.3" fill="#111" stroke="#111" stroke-width="0.2" textLength="34" lengthAdjust="spacingAndGlyphs">8800.0</text>
<text x="1496" y="114.9" font-size="11.3" fill="#111" stroke="#111" stroke-width="0.2" textLength="34" lengthAdjust="spacingAndGlyphs">9000.0</text>
<text x="1496" y="80.9" font-size="11.3" fill="#111" stroke="#111" stroke-width="0.2" textLength="34" lengthAdjust="spacingAndGlyphs">9200.0</text>
<text x="79.4" y="860" font-size="11.3" fill="#111" stroke="#111" stroke-width="0.2" text-anchor="middle">15</text>
<text x="159.5" y="860" font-size="11.3" fill="#111" stroke="#111" stroke-width="0.2" text-anchor="middle">12:00</text>
<text x="240.4" y="860" font-size="11.3" fill="#111" stroke="#111" stroke-width="0.2" text-anchor="middle">22</text>
<text x="332.6" y="860" font-size="11.3" fill="#111" stroke="#111" stroke-width="0.2" text-anchor="middle">26</text>
<text x="448.3" y="860" font-size="11.3" fill="#111" stroke="#111" stroke-width="0.2" text-anchor="middle">May</text>
<text x="563.3" y="860" font-size="11.3" fill="#111" stroke="#111" stroke-width="0.2" text-anchor="middle">6</text>
<text x="644.1" y="860" font-size="11.3" fill="#111" stroke="#111" stroke-width="0.2" text-anchor="middle">12:00</text>
<text x="724.5" y="860" font-size="11.3" fill="#111" stroke="#111" stroke-width="0.2" text-anchor="middle">13</text>
<text x="805.3" y="860" font-size="11.3" fill="#111" stroke="#111" stroke-width="0.2" text-anchor="middle">12:00</text>
<text x="886.4" y="860" font-size="11.3" fill="#111" stroke="#111" stroke-width="0.2" text-anchor="middle">20</text>
<text x="966.2" y="860" font-size="11.3" fill="#111" stroke="#111" stroke-width="0.2" text-anchor="middle">12:00</text>
<text x="1047.1" y="860" font-size="11.3" fill="#111" stroke="#111" stroke-width="0.2" text-anchor="middle">27</text>
<text x="1162.2" y="860" font-size="11.3" fill="#111" stroke="#111" stroke-width="0.2" text-anchor="middle">Jun</text>
<text x="1255.1" y="860" font-size="11.3" fill="#111" stroke="#111" stroke-width="0.2" text-anchor="middle">5</text>
<text x="1370.2" y="860" font-size="11.3" fill="#111" stroke="#111" stroke-width="0.2" text-anchor="middle">10</text>
<text x="1451.7" y="860" font-size="11.3" fill="#111" stroke="#111" stroke-width="0.2" text-anchor="middle">12:00</text>
<path d="M1488.0 823.5h4M1488.0 789.5h4M1488.0 755.5h4M1488.0 721.5h4M1488.0 687.5h4M1488.0 653.5h4M1488.0 619.5h4M1488.0 585.5h4M1488.0 551.5h4M1488.0 517.5h4M1488.0 483.5h4M1488.0 449.5h4M1488.0 415.5h4M1488.0 381.5h4M1488.0 348.5h4M1488.0 314.5h4M1488.0 280.5h4M1488.0 246.5h4M1488.0 212.5h4M1488.0 178.5h4M1488.0 144.5h4M1488.0 110.5h4M1488.0 76.5h4M79.5 842.0v4.5M159.5 842.0v4.5M240.5 842.0v4.5M332.5 842.0v4.5M448.5 842.0v4.5M563.5 842.0v4.5M644.5 842.0v4.5M724.5 842.0v4.5M805.5 842.0v4.5M886.5 842.0v4.5M966.5 842.0v4.5M1047.5 842.0v4.5M1162.5 842.0v4.5M1255.5 842.0v4.5M1370.5 842.0v4.5M1451.5 842.0v4.5" stroke="#7a7a7a" stroke-width="1" fill="none"/>
<rect x="1487" y="205" width="51" height="17" fill="#000"/>
<path d="M1487.5 213.5h4" stroke="#fff" stroke-width="1"/>
<text x="1496" y="216.8" font-size="11.3" fill="#fff" textLength="34" lengthAdjust="spacingAndGlyphs">8392.4</text>
<rect x="1498" y="223" width="40" height="17" fill="#000"/>
<text x="1502.4" y="235" font-size="11.3" fill="#fff" textLength="27.2" lengthAdjust="spacingAndGlyphs">52:38</text>
<text x="15.6" y="64.8" font-size="13" font-weight="bold" fill="#111" textLength="194.5" lengthAdjust="spacingAndGlyphs">Bitcoin / U.S. Dollar, 60, BITFINEX</text>
<text x="15.6" y="81.7" font-size="13" fill="#111" textLength="331" lengthAdjust="spacingAndGlyphs">Awesome SteemCoinPan #24 (20, 200, 3, 50, 3, 50, 1.5, 50)</text>
<text x="6.7" y="16.7" textLength="75.2" lengthAdjust="spacingAndGlyphs" font-size="13" fill="#3bb3e4" font-weight="normal">RoosterMine</text>
<text x="86.6" y="16.7" textLength="326.2" lengthAdjust="spacingAndGlyphs" font-size="13" fill="#111" font-weight="normal">published on TradingView.com, July 25, 2019 17:07:23 KST</text>
<text x="6.7" y="33.5" textLength="123.4" lengthAdjust="spacingAndGlyphs" font-size="13" fill="#111" font-weight="bold">BITFINEX:BTCUSD, 60</text>
<text x="136.8" y="33.5" textLength="44.4" lengthAdjust="spacingAndGlyphs" font-size="13" fill="#111" font-weight="normal">10083.0</text>
<path d="M184.8 34.4L190.2 24.8L195.7 34.4z" fill="#00a000"/>
<text x="199.3" y="33.5" textLength="92.1" lengthAdjust="spacingAndGlyphs" font-size="13" fill="#111" font-weight="normal">+314.0 (+3.21%)</text>
<text x="295.4" y="33.5" textLength="11.8" lengthAdjust="spacingAndGlyphs" font-size="13" fill="#111" font-weight="bold">O:</text>
<text x="309.9" y="33.5" textLength="44.4" lengthAdjust="spacingAndGlyphs" font-size="13" fill="#1fa81f" font-weight="normal">10065.3</text>
<text x="359.7" y="33.5" textLength="11.4" lengthAdjust="spacingAndGlyphs" font-size="13" fill="#111" font-weight="bold">H:</text>
<text x="373.7" y="33.5" textLength="44.9" lengthAdjust="spacingAndGlyphs" font-size="13" fill="#1fa81f" font-weight="normal">10087.0</text>
<text x="424" y="33.5" textLength="8.2" lengthAdjust="spacingAndGlyphs" font-size="13" fill="#111" font-weight="bold">L:</text>
<text x="434.6" y="33.5" textLength="44.7" lengthAdjust="spacingAndGlyphs" font-size="13" fill="#1fa81f" font-weight="normal">10056.0</text>
<text x="484.8" y="33.5" textLength="9.9" lengthAdjust="spacingAndGlyphs" font-size="13" fill="#111" font-weight="bold">C:</text>
<text x="496.9" y="33.5" textLength="44.9" lengthAdjust="spacingAndGlyphs" font-size="13" fill="#1fa81f" font-weight="normal">10083.0</text>
<text x="6.2" y="892" textLength="72.1" lengthAdjust="spacingAndGlyphs" font-size="13" fill="#111" font-weight="normal">Created with</text>
<g transform="translate(81.8,879.7)"><path d="M4.2 14.7C1.6 14.7 0 13 0 10.9C0 8.9 1.4 7.4 3.2 7.1C3.3 4.9 5 3.3 7 3.3C7.5 3.3 8 3.4 8.4 3.6C9.3 1.5 11.3 0 13.6 0C16.6 0 19 2.4 19.2 5.4C21.9 5.6 24.1 7.6 24.1 10.3C24.1 12.9 22.2 14.7 19.6 14.7Z" fill="#4fc3e8"/><path d="M1.2 12.6L8 6.6L13.6 12.4L21.2 4.6" stroke="#fff" stroke-width="1.7" fill="none" stroke-linejoin="miter"/></g>
<text x="105.9" y="892" textLength="70.8" lengthAdjust="spacingAndGlyphs" font-size="13" fill="#3bb3e4" font-weight="normal">TradingView</text>
</svg>
</body></html>
